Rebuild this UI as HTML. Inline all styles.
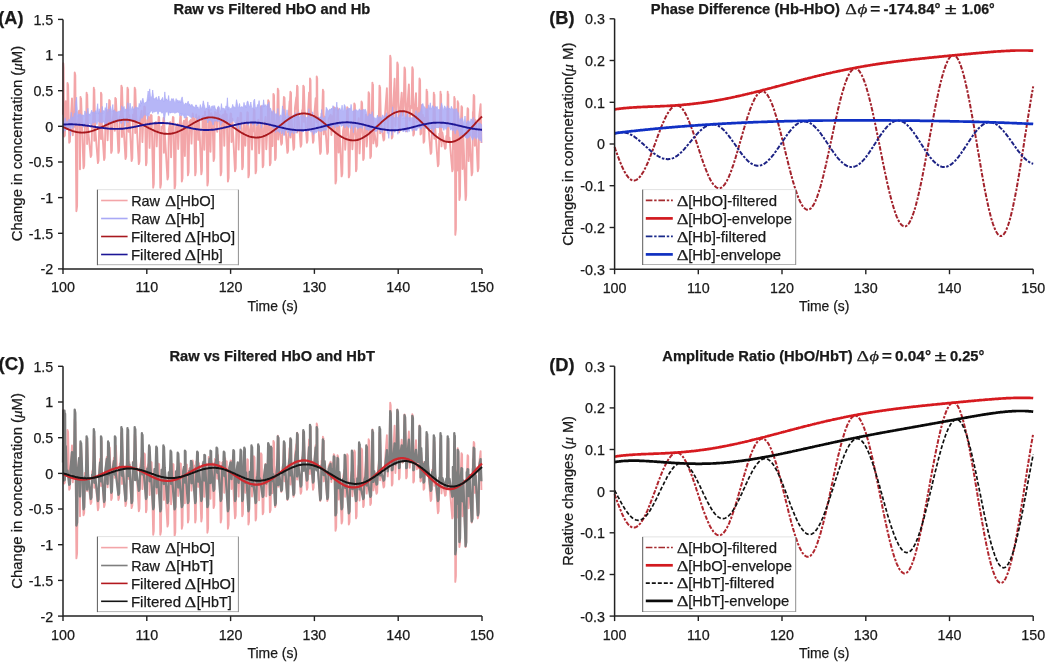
<!DOCTYPE html>
<html><head><meta charset="utf-8"><style>
html,body{margin:0;padding:0;background:#fff;}
svg{display:block;filter:blur(0.35px);}
text{font-family:"Liberation Sans", sans-serif;fill:#1a1a1a;stroke:#1a1a1a;stroke-width:0.25px;}
.tk{font-size:14.3px;}
</style></head><body>
<svg width="1050" height="666" viewBox="0 0 1050 666">
<rect width="1050" height="666" fill="#fff"/>
<path d="M63,114.7 63.3,63.2 63.6,67.9 64.1,136.5 64.8,135.7 65.4,122.3 65.8,101.2 66.6,129 66.8,125.8 67.5,119.8 67.5,82.9 68.1,85 69.2,142.7 69.9,141.6 70.5,125.3 72,98.4 72.8,135.2 73.6,123.5 74,127.1 74.7,72.4 75.3,75.1 76.4,211.2 77.1,206.2 77.7,125.4 79.1,110.7 79.8,127.7 80,169.2 80.5,96.9 80.8,123.6 81.1,98.4 83.5,168.2 84.2,165.8 84.9,126.1 85.9,125.4 86.3,113.3 86.6,92.8 87.1,144.1 87.2,94.5 88,128.4 90.7,157 91.4,155.1 92.1,124.6 93,122.4 93.5,108.3 93.8,87.7 94.3,140.8 94.3,89.5 95.1,126.7 97.9,163.1 98.5,160.8 99.2,125.7 100.1,111.8 100.2,122.4 101,139 101,92.8 101.5,94.2 101.8,123 104.1,160 104.7,157.7 105.4,125.1 106.8,110 107.6,140.2 108.4,120.4 108.5,122 109.2,100 109.8,100.8 111.2,152.9 111.9,150.8 112.5,121 114,110.6 114.5,116 114.8,130.7 115.3,98 115.6,115.9 115.9,98.8 118.4,152.9 119.1,150.7 119.7,117.1 120.7,115.4 121.1,98.4 121.4,85.6 122,137.1 122,87.1 122.8,114 125.5,159 126.2,156.4 126.8,117.3 126.9,113.6 127.5,87.7 127.7,104.3 128.1,89.1 128.6,131.8 129.4,115.2 131.6,161 132.3,158.3 133,114.8 134,120.8 134.4,105.3 134.7,87.7 135.2,133.1 135.3,89.2 136.1,113.2 138.8,164.1 139.5,161.3 140.2,119.4 141.6,110.7 142.4,142.1 143.2,121.7 143.5,121.3 144.3,106.4 144.9,107.2 146,165.2 146.6,162.6 147.3,120.4 148.7,116.5 149.6,147.9 150.2,123.4 150.4,118.6 151,114.9 151.6,115.4 153.2,187.7 153.8,184 154.5,123.8 155.9,122.1 156.7,146.4 157.6,123.1 157.9,130.7 158.6,116.7 159.2,117.2 160.3,187.7 161,184.1 161.6,126.6 162.8,128.1 163.1,123.6 163.6,117.8 163.9,152.8 164.1,118.3 164.7,131.6 167.5,179.5 168.2,176.5 168.8,129.4 170.2,122.3 171.1,157.3 171.9,129.8 172.2,127.9 172.9,117 173.5,117.5 174.6,188.7 175.3,185.1 176,127.1 177.4,123.9 178.2,149 179.1,126.6 179.6,125.1 180.3,116.3 180.9,116.8 181.8,181.6 182.5,178.2 183.2,123.8 184,120.6 184.9,156.1 185.5,120.1 185.7,122.6 186.3,117.4 186.9,117.6 187.9,175.4 188.6,172.1 189.3,121.8 190.7,120.1 191.5,143.6 192.4,118.7 192.7,113.4 193.5,118.6 194.1,118.5 195.2,175.4 195.8,171.9 196.3,114.5 196.5,120.6 197.1,119.2 197.4,117.9 197.7,119 198.2,139.9 199,116.2 201.3,174.4 201.9,170.8 202.6,116.5 203.5,116.3 204.3,149.7 205,111.4 205.2,117 205.7,117.4 206.3,117.1 207.4,185.6 208.1,181.3 208.7,109.8 209.6,114.6 210.5,151.7 211.2,115.3 211.3,113.3 211.9,116 212.5,115.9 213.6,161 214.3,158.1 214.9,112 216.3,113.6 217.2,131.8 218,108.2 218.3,118.4 219,115 219.6,115 220.7,175.4 221.4,171.7 222.1,115.8 223.5,114.4 224.3,145.7 225.2,111.2 225.5,117.7 226.2,114.1 226.8,114.3 227.9,181.6 228.6,177.8 229.3,120.2 229.8,123.9 230.6,113.5 230.6,116.7 231.2,114 231.5,142 232.3,118.6 235,171.3 235.7,168.4 236.4,125 237.8,117.6 238.6,149.6 239.5,122.8 239.8,128.3 240.6,112.6 241.2,113.4 242.2,169.2 242.9,166.8 243.6,128.6 244.5,121.3 245.3,145.8 246.1,129.2 246.6,128.5 247.4,112.1 247.9,113 248.4,177.4 249,174.7 249.7,131.5 251.1,122.7 252,149.5 252.8,128.2 253.1,131.4 253.9,109.3 254.5,110.5 255.6,173.4 256.2,170.9 256.9,128 258.3,119.7 259.1,153.2 260,133.5 260.3,134.6 261,106.3 261.6,107.5 262.7,167.2 263.4,165.1 264,128.7 265.5,117 266.3,149.3 267.1,133.3 267.5,129.4 268.2,100.1 268.8,101.5 269.9,165.2 270.6,163 271.2,126.8 271.7,112.1 272.5,146 272.7,125.2 273.3,128.6 273.4,93.9 274,95.4 275.1,160 275.8,157.9 276.4,124 277,117.6 277.4,109.5 277.8,88.8 278.2,139.6 278.4,90.3 279,124.4 281.3,144.7 282,143.2 282.6,120.5 283.1,118 283.5,106.2 283.9,96.9 284.4,134.2 284.5,97.8 285.2,124.1 287.4,152.9 288.1,150.6 288.8,113.2 289.6,101.2 289.7,110 290.4,91.8 290.5,137.5 291,92.8 291.3,113.7 293.5,149.8 294.2,147.5 294.9,108.3 296.3,97.1 296.3,108.9 297.1,85.6 297.1,132.5 297.6,86.8 298,109 300.7,146.7 301.4,144.4 302.1,110.2 302.6,111.1 303,100.6 303.3,85.6 303.8,121.8 303.9,86.8 304.6,109.7 306.9,142.7 307.5,140.6 308.2,109.9 309.1,92.4 309.2,111.4 309.9,127 310,78.5 310.5,80.1 310.8,108.1 313,142.7 313.6,140.7 314.3,114.8 315.7,98.1 315.9,112.7 316.6,122.4 316.7,76.4 317.2,78.4 317.4,110.2 320.2,153.9 320.9,151.6 321.5,113.8 322.1,116.5 322.9,89.8 322.9,103.4 323.5,91.3 323.7,134.4 324.6,116.6 327.3,153.9 328,151.9 328.6,119.2 330.6,114.7 331.4,135 332.2,116.3 333.1,129.4 333.8,107.1 334.4,108.1 335.5,183.6 336.2,180.2 336.8,130.7 336.9,126.8 337.5,108.2 337.7,119.1 338.1,109.3 338.6,152.5 339.4,126.5 341.6,176.4 342.3,173.8 343,131.4 344.4,122.7 345.2,149.7 346.1,135.1 346.4,135.2 347.2,107.3 347.8,108.7 348.8,177.4 349.5,174.9 350.2,136.5 351.6,124.5 352.4,149.3 353.2,135.9 353.5,133.9 354.3,103.4 354.9,105 356,171.3 356.6,169.1 357.3,133.5 358.7,118.3 359.6,153.4 360.4,134.5 360.7,132.4 361.5,101.5 362.1,103.1 363.2,160 363.8,158.4 364.5,133.6 365.9,114.6 366.7,146.5 367.6,133.7 367.9,126.7 368.6,92.2 369.2,94 370.3,158 371,156.2 371.6,127.5 371.6,120.1 372.4,82.6 372.6,104.4 373,84.5 373.4,143.4 374.2,130.4 376.5,146.7 377.2,145.2 377.8,123.6 378.8,116.6 379.2,105.1 379.5,85.6 380.1,133.2 380.1,87.1 380.9,122.4 383.6,140.6 384.3,139.1 385,114.8 386.9,88.3 387.7,129.3 388.6,117.7 389.4,111.1 390.2,55.7 390.7,58.4 391.8,138.5 392.5,136.8 393.2,106.5 394.6,78.8 395.4,126 396.2,111.8 396.5,106.4 397.3,62.5 397.9,64.7 399,132.4 399.6,130.8 400.3,109.8 401.7,92.7 402.6,115.7 403.4,109.7 403.7,105.7 404.5,67.4 405.1,69.4 406.2,131.4 406.8,129.9 407.5,105.5 408.9,84.4 409.7,120.6 410.6,106.1 411.5,108 412.3,67.2 412.9,69.4 413.3,135.5 414,133.9 414.6,109.2 416,93.2 416.9,122.2 417.7,108.1 418.7,115.9 418.7,121.3 419.5,78.5 419.5,78.5 420.1,80.4 420.1,80.5 420.5,134.5 421.2,133.4 421.2,105 421.8,115.5 422,122.3 422.9,114.9 423.6,142.7 424.3,141.2 424.9,117.6 425.9,125.7 426.3,109.2 426.6,89.8 427.2,127.3 427.2,91.6 428,121.6 430.7,153.9 431.4,152.3 432.1,122.8 433.1,131.1 433.5,111.4 433.8,92.8 434.3,138.7 434.4,94.8 435.2,127.5 437.9,166.2 438.6,164.2 439.3,133.6 439.8,141.3 440.5,91.8 440.6,115.9 441.1,94.1 441.5,146.4 442.3,132.4 445,148.8 445.7,148 446.4,135.9 447,140 447.7,91.8 447.8,116.6 448.3,94.1 448.6,141.9 449.5,137.8 452.3,171.3 452.9,169.2 452.9,122.6 453.5,132.4 453.6,140.1 453.8,148.9 454.3,96.9 454.6,135 454.8,98.8 455.3,234.8 455.9,228.8 456.5,123.7 456.6,136 456.9,137.9 457.3,170.5 457.7,101.3 458.2,136.5 458.3,102.9 459.4,200 460,196 460.7,133.5 460.7,128.1 461.5,106.2 461.6,119.2 462.1,107.3 462.5,169.1 463.3,134.7 465.6,200 466.2,195.7 466.8,122.9 466.9,127.5 467.6,108.2 467.8,118.4 468.2,108.9 468.6,161.1 469.5,131.9 471.7,175.4 472.4,172.2 472.9,112 473,122.9 473.7,94.9 473.9,110 474.3,95.9 474.8,145.8 475.6,120.3 477.8,171.3 478.5,168 479.2,116.6 480.6,104.1 481.4,142.9" fill="none" stroke="#f3a5a8" stroke-width="1.9" stroke-linejoin="round"/>
<path d="M63,123.9 63.8,122.9 64.5,120.1 65.3,117.7 66,122 66.8,121.9 67.5,121.2 68.3,121.7 69,119.1 69.8,121.1 70.5,119.9 71.3,112.3 72.1,119.7 72.8,116.8 73.6,117.9 74.3,113.1 75.1,114.9 75.8,101.6 76.6,97.2 77.3,110.7 78.1,117 78.8,114 79.6,114.6 80.3,113.7 81.1,115 81.9,115.2 82.6,115 83.4,115 84.1,116.2 84.9,110.9 85.6,112.6 86.4,115.9 87.1,112.4 87.9,108.3 88.6,115.3 89.4,113.8 90.2,115.3 90.9,112.5 91.7,110.2 92.4,113.1 93.2,111.9 93.9,112.3 94.7,113.2 95.4,110.6 96.2,114 96.9,109.8 97.7,103.7 98.4,114.2 99.2,108.7 100,112.7 100.7,113.1 101.5,113.8 102.2,106.4 103,113.8 103.7,110.4 104.5,112.4 105.2,107.6 106,110.9 106.7,103.1 107.5,113.1 108.3,113 109,108.9 109.8,112.2 110.5,106.4 111.3,110.4 112,111.7 112.8,104.5 113.5,112.7 114.3,110 115,110.7 115.8,112.4 116.5,112.1 117.3,112.1 118.1,111.5 118.8,111.4 119.6,111.3 120.3,110.6 121.1,111.4 121.8,105.8 122.6,109.2 123.3,107.4 124.1,106.5 124.8,111.3 125.6,109 126.4,108.9 127.1,111.1 127.9,102.7 128.6,110.7 129.4,108.6 130.1,103.1 130.9,109.7 131.6,109.3 132.4,106.5 133.1,110 133.9,108.5 134.6,109 135.4,106.6 136.2,107.3 136.9,108 137.7,107.4 138.4,109.1 139.2,103.4 139.9,106.6 140.7,100.5 141.4,104 142.2,100.1 142.9,98.2 143.7,102.1 144.5,103.4 145.2,102.8 146,101.9 146.7,102.3 147.5,96.9 148.2,91 149,100.6 149.7,88.9 150.5,97.1 151.2,97.8 152,95.9 152.7,90 153.5,97.4 154.3,99.3 155,98.5 155.8,97.6 156.5,97.1 157.3,100.3 158,100.1 158.8,96 159.5,99.6 160.3,100.4 161,100.3 161.8,99 162.6,97.4 163.3,101.1 164.1,101.1 164.8,91.9 165.6,100.2 166.3,98.8 167.1,100.1 167.8,100.9 168.6,95.5 169.3,101.5 170.1,101.5 170.9,101.3 171.6,98.6 172.4,100 173.1,98.4 173.9,100.1 174.6,102.5 175.4,102.7 176.1,98.6 176.9,102.2 177.6,100 178.4,100.6 179.1,102.8 179.9,100.4 180.7,103 181.4,99 182.2,96.9 182.9,101.4 183.7,104.7 184.4,104.8 185.2,103.3 185.9,103 186.7,104.4 187.4,102.7 188.2,101.2 189,105.5 189.7,103.8 190.5,106.3 191.2,104.9 192,104.3 192.7,105.7 193.5,107 194.2,106.8 195,108.7 195.7,104.9 196.5,105 197.2,108 198,106.8 198.8,110 199.5,108.9 200.3,104.6 201,108.2 201.8,108.2 202.5,105.4 203.3,100.8 204,104.2 204.8,107 205.5,109.7 206.3,107.9 207.1,109.3 207.8,101.9 208.6,108.4 209.3,105.3 210.1,107.2 210.8,110.6 211.6,106.3 212.3,106.6 213.1,105.5 213.8,108 214.6,105.6 215.3,108.8 216.1,109.3 216.9,110.8 217.6,107.5 218.4,106.1 219.1,106.7 219.9,110.6 220.6,111.2 221.4,103.6 222.1,108.5 222.9,108.3 223.6,108.3 224.4,108.6 225.2,110.4 225.9,105.9 226.7,106.9 227.4,97.8 228.2,110.2 228.9,106.8 229.7,109.4 230.4,108.5 231.2,107.9 231.9,108.4 232.7,104.4 233.4,107 234.2,106.7 235,108.5 235.7,106.6 236.5,99.7 237.2,103 238,108 238.7,107.2 239.5,103.5 240.2,107.7 241,107.2 241.7,106.6 242.5,107.1 243.3,107.6 244,102.4 244.8,107 245.5,105.4 246.3,108 247,101.7 247.8,101 248.5,103.6 249.3,106.5 250,106.8 250.8,102 251.6,107.4 252.3,107.9 253.1,108.1 253.8,100.6 254.6,99.1 255.3,107.5 256.1,107.4 256.8,107.9 257.6,104.5 258.3,105.6 259.1,100.6 259.8,107.4 260.6,107.2 261.4,106.3 262.1,104.9 262.9,107.2 263.6,99.8 264.4,106.6 265.1,104.6 265.9,106.1 266.6,106.4 267.4,104.2 268.1,106.4 268.9,102.2 269.7,110.4 270.4,107.9 271.2,110.3 271.9,112.2 272.7,112.4 273.4,110.1 274.2,111.7 274.9,114.5 275.7,113.9 276.4,113.7 277.2,116.5 277.9,108.4 278.7,117.8 279.5,116.8 280.2,114.9 281,115.5 281.7,115.9 282.5,105.9 283.2,114.6 284,109 284.7,114.6 285.5,116.7 286.2,117.5 287,109.8 287.8,115.9 288.5,115.7 289.3,117 290,117.7 290.8,116.2 291.5,116 292.3,117 293,117.8 293.8,114.7 294.5,117.3 295.3,112.7 296,117.8 296.8,114.9 297.6,117.8 298.3,112.2 299.1,118.1 299.8,117.2 300.6,115.3 301.3,117.1 302.1,114.2 302.8,118 303.6,116.9 304.3,114.9 305.1,118.2 305.9,116.9 306.6,117.5 307.4,117.3 308.1,116.8 308.9,108.7 309.6,117.9 310.4,116.9 311.1,116.9 311.9,117.3 312.6,111.8 313.4,116.7 314.1,116.2 314.9,116.5 315.7,117.1 316.4,116.5 317.2,118.3 317.9,117.1 318.7,117 319.4,118.1 320.2,116.6 320.9,118 321.7,109.5 322.4,116.5 323.2,118.3 324,118.2 324.7,117.4 325.5,115.8 326.2,107.3 327,108.6 327.7,109.9 328.5,111.4 329.2,109.7 330,108.9 330.7,109.7 331.5,108 332.2,109.9 333,105.6 333.8,109 334.5,109.8 335.3,107.3 336,110.3 336.8,102.1 337.5,110.9 338.3,111 339,109.2 339.8,107.9 340.5,110.3 341.3,110.3 342.1,105.2 342.8,111.3 343.6,111 344.3,104.5 345.1,105.8 345.8,109.8 346.6,110.7 347.3,108.8 348.1,107.8 348.8,110.4 349.6,108 350.4,109.5 351.1,104.4 351.9,110.4 352.6,111.3 353.4,111 354.1,110.7 354.9,109.5 355.6,109.9 356.4,109.8 357.1,110.6 357.9,111.2 358.6,110.6 359.4,108.8 360.2,110.8 360.9,110.1 361.7,110.4 362.4,110.6 363.2,109.2 363.9,110.4 364.7,109.5 365.4,109.3 366.2,111.5 366.9,115.5 367.7,116.5 368.5,116.9 369.2,113.5 370,115.7 370.7,114.1 371.5,115.2 372.2,111.6 373,116.9 373.7,116.9 374.5,118.3 375.2,118.2 376,118.4 376.7,118.4 377.5,115.1 378.3,118 379,117.4 379.8,116.5 380.5,117.5 381.3,118.3 382,117.2 382.8,114.8 383.5,117 384.3,116.9 385,115.8 385.8,115.2 386.6,112.7 387.3,118.2 388.1,117.1 388.8,116.7 389.6,116.8 390.3,115 391.1,114.8 391.8,114.7 392.6,106.8 393.3,118.4 394.1,117.3 394.8,118.4 395.6,116.8 396.4,109.8 397.1,116.9 397.9,118 398.6,118.1 399.4,114.9 400.1,116.2 400.9,112.7 401.6,111.9 402.4,118.1 403.1,118.1 403.9,110.1 404.7,118.5 405.4,117.2 406.2,116.5 406.9,115.2 407.7,112.8 408.4,118.3 409.2,117.4 409.9,117.7 410.7,117.6 411.4,117.5 412.2,118.5 412.9,118 413.7,115.7 414.5,118 415.2,114 416,110.6 416.7,117.3 417.5,117.6 418.2,112.5 419,115.8 419.7,112.3 420.5,112 421.2,108.2 422,104.3 422.8,103.5 423.5,105.7 424.3,106.7 425,107.5 425.8,109.2 426.5,109 427.3,108.8 428,108.8 428.8,104.8 429.5,109.4 430.3,102.8 431,109.3 431.8,108 432.6,105.7 433.3,106.2 434.1,109.1 434.8,107.8 435.6,106.3 436.3,108.1 437.1,106.4 437.8,109.8 438.6,109.5 439.3,109.7 440.1,109.8 440.9,106.5 441.6,102.9 442.4,106.4 443.1,109.4 443.9,109 444.6,105.8 445.4,107.3 446.1,109.8 446.9,107.8 447.6,105.7 448.4,109.6 449.2,107.9 449.9,108.8 450.7,109.3 451.4,106.3 452.2,108.6 452.9,108.9 453.7,109.6 454.4,108.9 455.2,109.9 455.9,108.7 456.7,108.8 457.4,112.3 458.2,112.4 459,117.6 459.7,121.4 460.5,118.7 461.2,120.9 462,117.4 462.7,119.1 463.5,122.5 464.2,123.7 465,116 465.7,123.4 466.5,123.9 467.3,120.8 468,123.6 468.8,120.5 469.5,122.3 470.3,122 471,118.8 471.8,120 472.5,122.5 473.3,117.3 474,120 474.8,123.8 475.5,124 476.3,123.1 477.1,122.4 477.8,124.4 478.6,123 479.3,123.3 480.1,123.1 480.8,124 481.6,124.6 L481.6,142.3 480.8,137.5 480.1,140.9 479.3,138.8 478.6,139.1 477.8,137.4 477.1,136.5 476.3,138.9 475.5,138.3 474.8,136.7 474,136.1 473.3,138.4 472.5,140.3 471.8,138 471,136.6 470.3,135.5 469.5,135.8 468.8,137.8 468,136.9 467.3,138.8 466.5,138 465.7,137.7 465,137 464.2,135.3 463.5,135 462.7,136.7 462,135.2 461.2,134.4 460.5,134.5 459.7,136.3 459,131.7 458.2,129.7 457.4,128.3 456.7,130.4 455.9,128 455.2,134.1 454.4,130 453.7,128.5 452.9,131.1 452.2,130.2 451.4,128 450.7,130.2 449.9,127.6 449.2,126.7 448.4,126.6 447.6,126.8 446.9,126.9 446.1,129.5 445.4,127.8 444.6,127.3 443.9,130.4 443.1,128.2 442.4,127.5 441.6,127.7 440.9,127.3 440.1,127.4 439.3,126.4 438.6,127.9 437.8,128 437.1,127.1 436.3,127.9 435.6,126.6 434.8,129 434.1,127.3 433.3,136.1 432.6,126.4 431.8,128.5 431,129.2 430.3,128.8 429.5,129.7 428.8,127.4 428,126.7 427.3,127 426.5,126.7 425.8,126.8 425,128.7 424.3,126.5 423.5,126.6 422.8,126.5 422,126.7 421.2,129.4 420.5,128.9 419.7,127.4 419,128.2 418.2,127.8 417.5,128.2 416.7,130.7 416,128.9 415.2,130.7 414.5,128.6 413.7,127.9 412.9,130.2 412.2,131.2 411.4,128 410.7,127.9 409.9,127.9 409.2,131.6 408.4,129 407.7,132.3 406.9,129.4 406.2,131.5 405.4,132 404.7,130.5 403.9,130.4 403.1,132 402.4,128 401.6,129.3 400.9,129.1 400.1,128.9 399.4,128.7 398.6,128.6 397.9,134.3 397.1,129.8 396.4,130.5 395.6,128.5 394.8,132.5 394.1,128.3 393.3,129.3 392.6,129.9 391.8,135.4 391.1,128.3 390.3,128.4 389.6,128.2 388.8,138.4 388.1,132.4 387.3,133.4 386.6,129.1 385.8,128.5 385,128.3 384.3,129.3 383.5,129.4 382.8,129.8 382,132.8 381.3,128.7 380.5,131.5 379.8,129.6 379,129.7 378.3,129.3 377.5,129.2 376.7,131.5 376,128.7 375.2,131.7 374.5,128.9 373.7,130.7 373,128.7 372.2,129.8 371.5,131.3 370.7,130.3 370,129.2 369.2,129.2 368.5,130.8 367.7,128.9 366.9,129.5 366.2,130 365.4,126.3 364.7,126.3 363.9,125.3 363.2,125.5 362.4,128.6 361.7,127.3 360.9,127.9 360.2,126.6 359.4,127.7 358.6,127.1 357.9,129.2 357.1,126.6 356.4,127.2 355.6,125.6 354.9,127.5 354.1,125.7 353.4,132.8 352.6,125.6 351.9,125 351.1,125.3 350.4,129 349.6,125 348.8,127.9 348.1,126.6 347.3,126.4 346.6,125.7 345.8,125.4 345.1,128 344.3,125.7 343.6,125.1 342.8,125.9 342.1,124.5 341.3,126.5 340.5,124.5 339.8,125.3 339,124.7 338.3,126.2 337.5,127 336.8,125.8 336,124.4 335.3,128.2 334.5,125.8 333.8,125.6 333,124.5 332.2,126.7 331.5,127.3 330.7,127.5 330,128.3 329.2,124.5 328.5,127.3 327.7,127 327,127.8 326.2,130.4 325.5,129.7 324.7,130.3 324,130 323.2,130 322.4,131.1 321.7,130.5 320.9,131.9 320.2,130.6 319.4,131.3 318.7,130.5 317.9,130.1 317.2,131.6 316.4,132.7 315.7,130.9 314.9,133.6 314.1,130.3 313.4,135.1 312.6,131.1 311.9,131.2 311.1,132.3 310.4,131.1 309.6,130.4 308.9,130.6 308.1,130 307.4,130.2 306.6,131.9 305.9,129.7 305.1,131.2 304.3,130.2 303.6,131.6 302.8,131.7 302.1,131.3 301.3,131.4 300.6,129.6 299.8,130.1 299.1,129.8 298.3,130.5 297.6,129.9 296.8,130.5 296,133.2 295.3,130 294.5,131.1 293.8,134 293,132.5 292.3,129.7 291.5,132.9 290.8,131.5 290,136.4 289.3,131.2 288.5,130.9 287.8,132.8 287,129.5 286.2,130.5 285.5,130.8 284.7,130 284,135.8 283.2,131.3 282.5,130.8 281.7,134 281,130.6 280.2,129.8 279.5,132.8 278.7,130.8 277.9,131.7 277.2,129.2 276.4,129.3 275.7,132.6 274.9,130.2 274.2,127.4 273.4,127.8 272.7,127 271.9,126.4 271.2,126.6 270.4,125.2 269.7,124 268.9,125.1 268.1,124.3 267.4,122.4 266.6,121.9 265.9,123.4 265.1,121.4 264.4,122 263.6,121.7 262.9,121.7 262.1,121.2 261.4,128.1 260.6,121.5 259.8,122 259.1,122.7 258.3,124.6 257.6,122.1 256.8,126 256.1,123.1 255.3,121.1 254.6,124 253.8,122.2 253.1,125.3 252.3,123.6 251.6,122.3 250.8,121.1 250,122.1 249.3,120.9 248.5,124.7 247.8,125.4 247,121.5 246.3,121.2 245.5,123.6 244.8,122.2 244,121.8 243.3,124 242.5,122.7 241.7,121.1 241,123.3 240.2,129.4 239.5,128.1 238.7,120.7 238,121.1 237.2,129.7 236.5,123.5 235.7,122.9 235,123.3 234.2,120.6 233.4,120.8 232.7,121.7 231.9,120.5 231.2,122.7 230.4,120.9 229.7,126.3 228.9,120.9 228.2,120.9 227.4,124.1 226.7,121.7 225.9,121.4 225.2,123 224.4,121.4 223.6,120.5 222.9,122.5 222.1,122.1 221.4,123.7 220.6,125.4 219.9,120.4 219.1,121.4 218.4,120.4 217.6,121.9 216.9,120.4 216.1,120.1 215.3,121.4 214.6,119.4 213.8,122.4 213.1,125.2 212.3,122.5 211.6,121.4 210.8,119 210.1,120.8 209.3,120.2 208.6,120.3 207.8,123 207.1,118.9 206.3,119.6 205.5,119.5 204.8,120 204,118.8 203.3,118.7 202.5,118.3 201.8,120.2 201,120 200.3,118.7 199.5,118.5 198.8,121.5 198,120.3 197.2,119.9 196.5,117.5 195.7,117.7 195,118 194.2,116.7 193.5,117 192.7,117 192,116 191.2,118.3 190.5,116.3 189.7,116.7 189,115.2 188.2,115.5 187.4,115.2 186.7,114.8 185.9,118 185.2,113.8 184.4,118.3 183.7,115.3 182.9,115.7 182.2,113.2 181.4,115.9 180.7,113 179.9,115.9 179.1,112.2 178.4,112.4 177.6,112.1 176.9,112.6 176.1,112.4 175.4,113 174.6,113.3 173.9,112.1 173.1,112.7 172.4,112.6 171.6,112.5 170.9,112.9 170.1,113 169.3,111.7 168.6,115.5 167.8,111.9 167.1,111.6 166.3,112.2 165.6,111.6 164.8,117.4 164.1,120.6 163.3,112.1 162.6,112.7 161.8,113.3 161,112.1 160.3,111.2 159.5,111.4 158.8,111.7 158,114.4 157.3,111.4 156.5,111.3 155.8,111.5 155,111.7 154.3,112 153.5,111.5 152.7,113.3 152,111.2 151.2,110.8 150.5,111.7 149.7,113.2 149,116 148.2,113 147.5,119.4 146.7,115 146,115.6 145.2,114.2 144.5,114.8 143.7,115.8 142.9,116.4 142.2,118.4 141.4,117.3 140.7,117.9 139.9,121.6 139.2,120.3 138.4,121.6 137.7,120.4 136.9,121 136.2,119.4 135.4,121.1 134.6,119.9 133.9,120.1 133.1,119.7 132.4,120.7 131.6,120.1 130.9,119.9 130.1,120.3 129.4,120.4 128.6,121.3 127.9,122.7 127.1,121 126.4,120.4 125.6,120.4 124.8,126.2 124.1,120 123.3,120.2 122.6,120.2 121.8,123.1 121.1,123.8 120.3,122.5 119.6,121.9 118.8,120.2 118.1,120.8 117.3,122.6 116.5,121.1 115.8,121 115,122 114.3,121.3 113.5,121.9 112.8,120.6 112,122.6 111.3,121.3 110.5,123.6 109.8,121.2 109,121.6 108.3,120.7 107.5,122.2 106.7,124.8 106,123.6 105.2,124.9 104.5,123.8 103.7,121.1 103,122.3 102.2,123.2 101.5,122.6 100.7,122.4 100,122.1 99.2,122.5 98.4,121.2 97.7,121.3 96.9,124.7 96.2,122 95.4,122.3 94.7,121.8 93.9,123.4 93.2,122 92.4,122.7 91.7,124.6 90.9,124.8 90.2,124.1 89.4,123 88.6,124.6 87.9,125 87.1,125.9 86.4,122.6 85.6,122.9 84.9,125.2 84.1,123.2 83.4,127.3 82.6,126 81.9,125 81.1,122.9 80.3,123.4 79.6,123.8 78.8,124 78.1,123.4 77.3,124.1 76.6,123.5 75.8,125.3 75.1,123.8 74.3,124.4 73.6,126.4 72.8,128.3 72.1,126.1 71.3,125.7 70.5,135.7 69.8,127.1 69,126.8 68.3,127.1 67.5,129.3 66.8,127.4 66,128.6 65.3,130.7 64.5,130.2 63.8,131.4 63,133.4Z" fill="#a9a9f6" fill-opacity="0.85" stroke="#a9a9f6" stroke-opacity="0.85" stroke-width="0.8"/>
<path d="M63,126.8 63.8,127.3 64.7,127.7 65.5,128.1 66.4,128.4 67.2,128.8 68,129.2 68.9,129.6 69.7,129.9 70.5,130.2 71.4,130.5 72.2,130.8 73.1,131.1 73.9,131.3 74.7,131.6 75.6,131.8 76.4,132 77.2,132.1 78.1,132.3 78.9,132.4 79.8,132.5 80.6,132.5 81.4,132.6 82.3,132.6 83.1,132.6 84,132.5 84.8,132.5 85.6,132.4 86.5,132.3 87.3,132.1 88.1,132 89,131.8 89.8,131.6 90.7,131.4 91.5,131.1 92.3,130.9 93.2,130.6 94,130.3 94.8,130 95.7,129.7 96.5,129.4 97.4,129 98.2,128.7 99,128.3 99.9,127.9 100.7,127.6 101.5,127.2 102.4,126.8 103.2,126.4 104.1,126 104.9,125.6 105.7,125.2 106.6,124.8 107.4,124.4 108.3,124.1 109.1,123.7 109.9,123.3 110.8,123 111.6,122.7 112.4,122.3 113.3,122 114.1,121.7 115,121.5 115.8,121.2 116.6,121 117.5,120.7 118.3,120.5 119.1,120.4 120,120.2 120.8,120.1 121.7,120 122.5,119.9 123.3,119.8 124.2,119.8 125,119.7 125.8,119.7 126.7,119.8 127.5,119.8 128.4,119.9 129.2,120 130,120.2 130.9,120.3 131.7,120.5 132.6,120.7 133.4,121 134.2,121.2 135.1,121.5 135.9,121.8 136.7,122.1 137.6,122.5 138.4,122.8 139.3,123.2 140.1,123.6 140.9,124 141.8,124.4 142.6,124.8 143.4,125.2 144.3,125.7 145.1,126.1 146,126.5 146.8,127 147.6,127.4 148.5,127.9 149.3,128.3 150.2,128.7 151,129.1 151.8,129.5 152.7,129.9 153.5,130.3 154.3,130.7 155.2,131.1 156,131.4 156.9,131.7 157.7,132 158.5,132.3 159.4,132.6 160.2,132.8 161,133.1 161.9,133.2 162.7,133.4 163.6,133.6 164.4,133.7 165.2,133.8 166.1,133.8 166.9,133.9 167.8,133.9 168.6,133.9 169.4,133.8 170.3,133.7 171.1,133.6 171.9,133.5 172.8,133.3 173.6,133.1 174.5,132.9 175.3,132.6 176.1,132.4 177,132.1 177.8,131.7 178.6,131.4 179.5,131 180.3,130.6 181.2,130.2 182,129.8 182.8,129.4 183.7,128.9 184.5,128.4 185.3,127.9 186.2,127.5 187,127 187.9,126.5 188.7,126 189.5,125.5 190.4,125 191.2,124.5 192.1,124 192.9,123.5 193.7,123 194.6,122.5 195.4,122.1 196.2,121.6 197.1,121.2 197.9,120.8 198.8,120.4 199.6,120 200.4,119.6 201.3,119.3 202.1,119 202.9,118.7 203.8,118.4 204.6,118.2 205.5,118 206.3,117.8 207.1,117.7 208,117.5 208.8,117.4 209.6,117.4 210.5,117.4 211.3,117.4 212.2,117.4 213,117.5 213.8,117.6 214.7,117.7 215.5,117.9 216.4,118.1 217.2,118.3 218,118.5 218.9,118.8 219.7,119.2 220.5,119.5 221.4,119.9 222.2,120.3 223.1,120.7 223.9,121.1 224.7,121.6 225.6,122.1 226.4,122.6 227.2,123.1 228.1,123.7 228.9,124.2 229.8,124.8 230.6,125.3 231.4,125.9 232.3,126.5 233.1,127.1 234,127.7 234.8,128.2 235.6,128.8 236.5,129.4 237.3,130 238.1,130.5 239,131.1 239.8,131.6 240.7,132.2 241.5,132.7 242.3,133.2 243.2,133.6 244,134.1 244.8,134.5 245.7,134.9 246.5,135.3 247.4,135.7 248.2,136 249,136.3 249.9,136.6 250.7,136.8 251.6,137 252.4,137.2 253.2,137.3 254.1,137.4 254.9,137.5 255.7,137.6 256.6,137.6 257.4,137.5 258.3,137.5 259.1,137.4 259.9,137.2 260.8,137.1 261.6,136.9 262.4,136.6 263.3,136.3 264.1,136 265,135.7 265.8,135.3 266.6,134.9 267.5,134.5 268.3,134 269.1,133.5 270,133 270.8,132.5 271.7,131.9 272.5,131.3 273.3,130.7 274.2,130.1 275,129.5 275.9,128.9 276.7,128.2 277.5,127.6 278.4,126.9 279.2,126.2 280,125.6 280.9,124.9 281.7,124.2 282.6,123.6 283.4,122.9 284.2,122.3 285.1,121.6 285.9,121 286.7,120.4 287.6,119.8 288.4,119.2 289.3,118.6 290.1,118.1 290.9,117.6 291.8,117.1 292.6,116.6 293.5,116.2 294.3,115.8 295.1,115.4 296,115 296.8,114.7 297.6,114.4 298.5,114.2 299.3,114 300.2,113.8 301,113.6 301.8,113.5 302.7,113.5 303.5,113.4 304.3,113.4 305.2,113.5 306,113.6 306.9,113.7 307.7,113.8 308.5,114 309.4,114.2 310.2,114.5 311,114.8 311.9,115.1 312.7,115.5 313.6,115.9 314.4,116.3 315.2,116.8 316.1,117.3 316.9,117.8 317.8,118.3 318.6,118.9 319.4,119.5 320.3,120.1 321.1,120.7 321.9,121.4 322.8,122 323.6,122.7 324.5,123.4 325.3,124.1 326.1,124.8 327,125.5 327.8,126.2 328.6,127 329.5,127.7 330.3,128.4 331.2,129.1 332,129.8 332.8,130.5 333.7,131.2 334.5,131.9 335.4,132.5 336.2,133.2 337,133.8 337.9,134.4 338.7,135 339.5,135.5 340.4,136.1 341.2,136.6 342.1,137.1 342.9,137.5 343.7,138 344.6,138.4 345.4,138.7 346.2,139.1 347.1,139.3 347.9,139.6 348.8,139.8 349.6,140 350.4,140.2 351.3,140.3 352.1,140.4 352.9,140.4 353.8,140.4 354.6,140.4 355.5,140.3 356.3,140.1 357.1,140 358,139.8 358.8,139.5 359.7,139.2 360.5,138.9 361.3,138.5 362.2,138.1 363,137.7 363.8,137.2 364.7,136.7 365.5,136.1 366.4,135.6 367.2,135 368,134.4 368.9,133.7 369.7,133 370.5,132.3 371.4,131.6 372.2,130.9 373.1,130.1 373.9,129.4 374.7,128.6 375.6,127.8 376.4,127 377.2,126.2 378.1,125.5 378.9,124.7 379.8,123.9 380.6,123.1 381.4,122.3 382.3,121.6 383.1,120.8 384,120.1 384.8,119.4 385.6,118.7 386.5,118 387.3,117.3 388.1,116.7 389,116.1 389.8,115.5 390.7,115 391.5,114.5 392.3,114 393.2,113.5 394,113.1 394.8,112.7 395.7,112.4 396.5,112.1 397.4,111.8 398.2,111.6 399,111.4 399.9,111.3 400.7,111.2 401.6,111.2 402.4,111.1 403.2,111.2 404.1,111.3 404.9,111.4 405.7,111.6 406.6,111.8 407.4,112.1 408.3,112.4 409.1,112.8 409.9,113.2 410.8,113.6 411.6,114.1 412.4,114.6 413.3,115.2 414.1,115.7 415,116.4 415.8,117 416.6,117.7 417.5,118.4 418.3,119.2 419.1,119.9 420,120.7 420.8,121.5 421.7,122.3 422.5,123.2 423.3,124 424.2,124.8 425,125.7 425.9,126.6 426.7,127.4 427.5,128.3 428.4,129.1 429.2,130 430,130.8 430.9,131.6 431.7,132.4 432.6,133.2 433.4,133.9 434.2,134.7 435.1,135.4 435.9,136.1 436.7,136.8 437.6,137.4 438.4,138 439.3,138.5 440.1,139.1 440.9,139.6 441.8,140 442.6,140.4 443.5,140.8 444.3,141.1 445.1,141.4 446,141.6 446.8,141.8 447.6,141.9 448.5,142 449.3,142 450.2,142 451,142 451.8,141.9 452.7,141.7 453.5,141.5 454.3,141.3 455.2,141 456,140.6 456.9,140.2 457.7,139.8 458.5,139.3 459.4,138.8 460.2,138.2 461,137.6 461.9,137 462.7,136.3 463.6,135.6 464.4,134.8 465.2,134 466.1,133.3 466.9,132.4 467.8,131.6 468.6,130.7 469.4,129.8 470.3,128.9 471.1,128 471.9,127.1 472.8,126.2 473.6,125.3 474.5,124.4 475.3,123.4 476.1,122.5 477,121.6 477.8,120.7 478.6,119.8 479.5,119 480.3,118.1 481.2,117.3 482,116.5" fill="none" stroke="#a8181e" stroke-width="1.9" stroke-linejoin="round"/>
<path d="M63,124.6 63.8,124.5 64.7,124.5 65.5,124.5 66.4,124.4 67.2,124.4 68,124.4 68.9,124.3 69.7,124.3 70.5,124.3 71.4,124.3 72.2,124.3 73.1,124.4 73.9,124.4 74.7,124.4 75.6,124.5 76.4,124.5 77.2,124.6 78.1,124.6 78.9,124.7 79.8,124.8 80.6,124.9 81.4,124.9 82.3,125 83.1,125.1 84,125.2 84.8,125.3 85.6,125.5 86.5,125.6 87.3,125.7 88.1,125.8 89,125.9 89.8,126.1 90.7,126.2 91.5,126.3 92.3,126.4 93.2,126.6 94,126.7 94.8,126.8 95.7,127 96.5,127.1 97.4,127.2 98.2,127.4 99,127.5 99.9,127.6 100.7,127.7 101.5,127.8 102.4,127.9 103.2,128 104.1,128.1 104.9,128.2 105.7,128.3 106.6,128.4 107.4,128.5 108.3,128.6 109.1,128.6 109.9,128.7 110.8,128.8 111.6,128.8 112.4,128.8 113.3,128.9 114.1,128.9 115,128.9 115.8,128.9 116.6,128.9 117.5,128.9 118.3,128.9 119.1,128.9 120,128.8 120.8,128.8 121.7,128.7 122.5,128.7 123.3,128.6 124.2,128.5 125,128.4 125.8,128.3 126.7,128.2 127.5,128.1 128.4,127.9 129.2,127.8 130,127.7 130.9,127.5 131.7,127.4 132.6,127.2 133.4,127.1 134.2,126.9 135.1,126.7 135.9,126.6 136.7,126.4 137.6,126.2 138.4,126 139.3,125.9 140.1,125.7 140.9,125.5 141.8,125.4 142.6,125.2 143.4,125 144.3,124.9 145.1,124.7 146,124.5 146.8,124.4 147.6,124.2 148.5,124.1 149.3,124 150.2,123.8 151,123.7 151.8,123.6 152.7,123.5 153.5,123.4 154.3,123.3 155.2,123.2 156,123.2 156.9,123.1 157.7,123.1 158.5,123 159.4,123 160.2,123 161,123 161.9,123 162.7,123 163.6,123 164.4,123.1 165.2,123.1 166.1,123.2 166.9,123.2 167.8,123.3 168.6,123.4 169.4,123.5 170.3,123.6 171.1,123.8 171.9,123.9 172.8,124 173.6,124.2 174.5,124.4 175.3,124.5 176.1,124.7 177,124.9 177.8,125.1 178.6,125.2 179.5,125.4 180.3,125.6 181.2,125.8 182,126 182.8,126.2 183.7,126.5 184.5,126.7 185.3,126.9 186.2,127.1 187,127.3 187.9,127.5 188.7,127.7 189.5,127.9 190.4,128 191.2,128.2 192.1,128.4 192.9,128.6 193.7,128.7 194.6,128.9 195.4,129 196.2,129.2 197.1,129.3 197.9,129.4 198.8,129.5 199.6,129.6 200.4,129.7 201.3,129.8 202.1,129.9 202.9,129.9 203.8,130 204.6,130 205.5,130 206.3,130 207.1,130 208,130 208.8,130 209.6,129.9 210.5,129.9 211.3,129.8 212.2,129.8 213,129.7 213.8,129.6 214.7,129.5 215.5,129.3 216.4,129.2 217.2,129.1 218,128.9 218.9,128.8 219.7,128.6 220.5,128.4 221.4,128.3 222.2,128.1 223.1,127.9 223.9,127.7 224.7,127.5 225.6,127.3 226.4,127.1 227.2,126.9 228.1,126.7 228.9,126.5 229.8,126.2 230.6,126 231.4,125.8 232.3,125.6 233.1,125.4 234,125.2 234.8,125 235.6,124.8 236.5,124.6 237.3,124.4 238.1,124.2 239,124 239.8,123.9 240.7,123.7 241.5,123.5 242.3,123.4 243.2,123.3 244,123.1 244.8,123 245.7,122.9 246.5,122.8 247.4,122.7 248.2,122.7 249,122.6 249.9,122.6 250.7,122.5 251.6,122.5 252.4,122.5 253.2,122.5 254.1,122.5 254.9,122.5 255.7,122.5 256.6,122.6 257.4,122.7 258.3,122.7 259.1,122.8 259.9,122.9 260.8,123 261.6,123.1 262.4,123.2 263.3,123.4 264.1,123.5 265,123.7 265.8,123.8 266.6,124 267.5,124.1 268.3,124.3 269.1,124.5 270,124.7 270.8,124.9 271.7,125.1 272.5,125.3 273.3,125.5 274.2,125.7 275,125.9 275.9,126.2 276.7,126.4 277.5,126.6 278.4,126.8 279.2,127 280,127.2 280.9,127.4 281.7,127.6 282.6,127.8 283.4,128 284.2,128.2 285.1,128.4 285.9,128.6 286.7,128.8 287.6,128.9 288.4,129.1 289.3,129.2 290.1,129.4 290.9,129.5 291.8,129.6 292.6,129.7 293.5,129.8 294.3,129.9 295.1,130 296,130.1 296.8,130.1 297.6,130.2 298.5,130.2 299.3,130.2 300.2,130.2 301,130.2 301.8,130.2 302.7,130.2 303.5,130.2 304.3,130.1 305.2,130 306,130 306.9,129.9 307.7,129.8 308.5,129.7 309.4,129.5 310.2,129.4 311,129.3 311.9,129.1 312.7,128.9 313.6,128.8 314.4,128.6 315.2,128.4 316.1,128.2 316.9,128 317.8,127.8 318.6,127.6 319.4,127.4 320.3,127.2 321.1,127 321.9,126.7 322.8,126.5 323.6,126.3 324.5,126.1 325.3,125.8 326.1,125.6 327,125.4 327.8,125.2 328.6,125 329.5,124.8 330.3,124.5 331.2,124.3 332,124.2 332.8,124 333.7,123.8 334.5,123.6 335.4,123.5 336.2,123.3 337,123.2 337.9,123 338.7,122.9 339.5,122.8 340.4,122.7 341.2,122.6 342.1,122.5 342.9,122.5 343.7,122.4 344.6,122.4 345.4,122.4 346.2,122.3 347.1,122.3 347.9,122.3 348.8,122.4 349.6,122.4 350.4,122.5 351.3,122.5 352.1,122.6 352.9,122.7 353.8,122.8 354.6,122.9 355.5,123 356.3,123.1 357.1,123.3 358,123.4 358.8,123.6 359.7,123.8 360.5,123.9 361.3,124.1 362.2,124.3 363,124.5 363.8,124.7 364.7,124.9 365.5,125.2 366.4,125.4 367.2,125.6 368,125.8 368.9,126 369.7,126.3 370.5,126.5 371.4,126.7 372.2,126.9 373.1,127.2 373.9,127.4 374.7,127.6 375.6,127.8 376.4,128 377.2,128.2 378.1,128.4 378.9,128.6 379.8,128.8 380.6,129 381.4,129.1 382.3,129.3 383.1,129.4 384,129.5 384.8,129.7 385.6,129.8 386.5,129.9 387.3,130 388.1,130 389,130.1 389.8,130.2 390.7,130.2 391.5,130.2 392.3,130.2 393.2,130.2 394,130.2 394.8,130.2 395.7,130.2 396.5,130.1 397.4,130.1 398.2,130 399,129.9 399.9,129.8 400.7,129.7 401.6,129.6 402.4,129.4 403.2,129.3 404.1,129.2 404.9,129 405.7,128.8 406.6,128.7 407.4,128.5 408.3,128.3 409.1,128.1 409.9,127.9 410.8,127.7 411.6,127.5 412.4,127.3 413.3,127 414.1,126.8 415,126.6 415.8,126.4 416.6,126.2 417.5,125.9 418.3,125.7 419.1,125.5 420,125.3 420.8,125.1 421.7,124.9 422.5,124.7 423.3,124.5 424.2,124.3 425,124.1 425.9,124 426.7,123.8 427.5,123.6 428.4,123.5 429.2,123.4 430,123.2 430.9,123.1 431.7,123 432.6,122.9 433.4,122.8 434.2,122.8 435.1,122.7 435.9,122.7 436.7,122.6 437.6,122.6 438.4,122.6 439.3,122.6 440.1,122.6 440.9,122.7 441.8,122.7 442.6,122.8 443.5,122.8 444.3,122.9 445.1,123 446,123.1 446.8,123.2 447.6,123.3 448.5,123.4 449.3,123.6 450.2,123.7 451,123.9 451.8,124 452.7,124.2 453.5,124.4 454.3,124.5 455.2,124.7 456,124.9 456.9,125.1 457.7,125.3 458.5,125.5 459.4,125.7 460.2,125.9 461,126.1 461.9,126.3 462.7,126.5 463.6,126.7 464.4,126.9 465.2,127.1 466.1,127.3 466.9,127.5 467.8,127.7 468.6,127.9 469.4,128 470.3,128.2 471.1,128.4 471.9,128.5 472.8,128.7 473.6,128.8 474.5,128.9 475.3,129.1 476.1,129.2 477,129.3 477.8,129.4 478.6,129.5 479.5,129.5 480.3,129.6 481.2,129.7 482,129.7" fill="none" stroke="#1c1696" stroke-width="1.9" stroke-linejoin="round"/>
<path d="M63.0,19.4 L63.0,268.9 L482.0,268.9" fill="none" stroke="#222222" stroke-width="1.5"/>
<line x1="58.0" y1="19.4" x2="63.0" y2="19.4" stroke="#222222" stroke-width="1.4"/>
<text x="53.3" y="24.8" text-anchor="end" class="tk">1.5</text>
<line x1="58.0" y1="55.0" x2="63.0" y2="55.0" stroke="#222222" stroke-width="1.4"/>
<text x="53.3" y="60.4" text-anchor="end" class="tk">1</text>
<line x1="58.0" y1="90.7" x2="63.0" y2="90.7" stroke="#222222" stroke-width="1.4"/>
<text x="53.3" y="96.1" text-anchor="end" class="tk">0.5</text>
<line x1="58.0" y1="126.3" x2="63.0" y2="126.3" stroke="#222222" stroke-width="1.4"/>
<text x="53.3" y="131.7" text-anchor="end" class="tk">0</text>
<line x1="58.0" y1="162.0" x2="63.0" y2="162.0" stroke="#222222" stroke-width="1.4"/>
<text x="53.3" y="167.4" text-anchor="end" class="tk">-0.5</text>
<line x1="58.0" y1="197.6" x2="63.0" y2="197.6" stroke="#222222" stroke-width="1.4"/>
<text x="53.3" y="203.0" text-anchor="end" class="tk">-1</text>
<line x1="58.0" y1="233.3" x2="63.0" y2="233.3" stroke="#222222" stroke-width="1.4"/>
<text x="53.3" y="238.7" text-anchor="end" class="tk">-1.5</text>
<line x1="58.0" y1="268.9" x2="63.0" y2="268.9" stroke="#222222" stroke-width="1.4"/>
<text x="53.3" y="274.3" text-anchor="end" class="tk">-2</text>
<line x1="63.0" y1="268.9" x2="63.0" y2="273.9" stroke="#222222" stroke-width="1.4"/>
<text x="63.0" y="292.3" text-anchor="middle" class="tk">100</text>
<line x1="146.8" y1="268.9" x2="146.8" y2="273.9" stroke="#222222" stroke-width="1.4"/>
<text x="146.8" y="292.3" text-anchor="middle" class="tk">110</text>
<line x1="230.6" y1="268.9" x2="230.6" y2="273.9" stroke="#222222" stroke-width="1.4"/>
<text x="230.6" y="292.3" text-anchor="middle" class="tk">120</text>
<line x1="314.4" y1="268.9" x2="314.4" y2="273.9" stroke="#222222" stroke-width="1.4"/>
<text x="314.4" y="292.3" text-anchor="middle" class="tk">130</text>
<line x1="398.2" y1="268.9" x2="398.2" y2="273.9" stroke="#222222" stroke-width="1.4"/>
<text x="398.2" y="292.3" text-anchor="middle" class="tk">140</text>
<line x1="482.0" y1="268.9" x2="482.0" y2="273.9" stroke="#222222" stroke-width="1.4"/>
<text x="482.0" y="292.3" text-anchor="middle" class="tk">150</text>
<text x="247.52" y="310.80" textLength="50.50" lengthAdjust="spacingAndGlyphs" style="font-family:'Liberation Sans', sans-serif;font-size:14.2px;">Time (s)</text>
<text transform="rotate(-90)" x="-241.24" y="22.30" textLength="195.43" lengthAdjust="spacingAndGlyphs" style="font-family:'Liberation Sans',sans-serif;font-size:14.3px;">Change in concentration (<tspan style="font-family:'Liberation Serif',serif;font-style:italic">μ</tspan>M)</text>
<text x="173.57" y="13.90" textLength="196.72" lengthAdjust="spacingAndGlyphs" style="font-family:'Liberation Sans', sans-serif;font-size:14.2px;font-weight:bold;">Raw vs Filtered HbO and Hb</text>
<text x="-1.71" y="23.60" textLength="25.18" lengthAdjust="spacingAndGlyphs" style="font-family:'Liberation Sans', sans-serif;font-size:18px;font-weight:bold;">(A)</text>
<rect x="97.4" y="189.7" width="141.0" height="75.0" fill="#fff"/>
<line x1="97.4" y1="189.7" x2="238.4" y2="189.7" stroke="#e2e2e2" stroke-width="1"/>
<line x1="97.4" y1="264.7" x2="238.4" y2="264.7" stroke="#b4b4b4" stroke-width="1"/>
<line x1="97.4" y1="189.7" x2="97.4" y2="265.2" stroke="#5a5a5a" stroke-width="1"/>
<line x1="238.4" y1="189.7" x2="238.4" y2="265.2" stroke="#8e8e8e" stroke-width="1"/>
<line x1="101.1" y1="200.5" x2="127.6" y2="200.5" stroke="#f3a5a8" stroke-width="1.6"/>
<text x="131.15" y="205.80" textLength="28.86" lengthAdjust="spacingAndGlyphs" style="font-family:'Liberation Sans', sans-serif;font-size:14.3px;">Raw</text>
<text x="165.10" y="205.80" textLength="11.28" lengthAdjust="spacingAndGlyphs" style="font-family:'Liberation Serif', serif;font-size:14.3px;">Δ</text>
<text x="176.27" y="205.80" textLength="38.59" lengthAdjust="spacingAndGlyphs" style="font-family:'Liberation Sans', sans-serif;font-size:14.3px;">[HbO]</text>
<line x1="101.1" y1="218.5" x2="127.6" y2="218.5" stroke="#a9a9f6" stroke-width="1.6"/>
<text x="131.15" y="223.80" textLength="28.86" lengthAdjust="spacingAndGlyphs" style="font-family:'Liberation Sans', sans-serif;font-size:14.3px;">Raw</text>
<text x="165.10" y="223.80" textLength="11.28" lengthAdjust="spacingAndGlyphs" style="font-family:'Liberation Serif', serif;font-size:14.3px;">Δ</text>
<text x="176.22" y="223.80" textLength="28.26" lengthAdjust="spacingAndGlyphs" style="font-family:'Liberation Sans', sans-serif;font-size:14.3px;">[Hb]</text>
<line x1="101.1" y1="236.5" x2="127.6" y2="236.5" stroke="#a8181e" stroke-width="1.6"/>
<text x="130.90" y="241.80" textLength="50.17" lengthAdjust="spacingAndGlyphs" style="font-family:'Liberation Sans', sans-serif;font-size:14.3px;">Filtered</text>
<text x="184.47" y="241.80" textLength="11.73" lengthAdjust="spacingAndGlyphs" style="font-family:'Liberation Serif', serif;font-size:14.3px;">Δ</text>
<text x="196.77" y="241.80" textLength="38.28" lengthAdjust="spacingAndGlyphs" style="font-family:'Liberation Sans', sans-serif;font-size:14.3px;">[HbO]</text>
<line x1="101.1" y1="254.5" x2="127.6" y2="254.5" stroke="#1c1696" stroke-width="1.6"/>
<text x="130.90" y="259.80" textLength="50.17" lengthAdjust="spacingAndGlyphs" style="font-family:'Liberation Sans', sans-serif;font-size:14.3px;">Filtered</text>
<text x="184.47" y="259.80" textLength="11.73" lengthAdjust="spacingAndGlyphs" style="font-family:'Liberation Serif', serif;font-size:14.3px;">Δ</text>
<text x="196.81" y="259.80" textLength="26.00" lengthAdjust="spacingAndGlyphs" style="font-family:'Liberation Sans', sans-serif;font-size:14.3px;">[Hb]</text>
<path d="M614.6,147 615.4,149.4 616.3,151.8 617.1,154.1 617.9,156.4 618.8,158.6 619.6,160.8 620.5,162.9 621.3,164.9 622.1,166.8 623,168.6 623.8,170.3 624.6,171.9 625.5,173.3 626.3,174.7 627.2,175.9 628,177 628.8,177.9 629.7,178.7 630.5,179.4 631.3,179.9 632.2,180.2 633,180.5 633.9,180.5 634.7,180.4 635.5,180.2 636.4,179.8 637.2,179.3 638,178.7 638.9,177.9 639.7,177 640.6,176 641.4,174.9 642.2,173.6 643.1,172.2 643.9,170.7 644.7,169.1 645.6,167.4 646.4,165.6 647.3,163.8 648.1,161.8 648.9,159.8 649.8,157.7 650.6,155.6 651.4,153.4 652.3,151.2 653.1,148.9 653.9,146.6 654.8,144.3 655.6,142 656.5,139.7 657.3,137.5 658.1,135.2 659,133 659.8,130.8 660.6,128.6 661.5,126.5 662.3,124.5 663.2,122.5 664,120.7 664.8,118.9 665.7,117.1 666.5,115.5 667.3,114 668.2,112.6 669,111.3 669.9,110.1 670.7,109.1 671.5,108.1 672.4,107.4 673.2,106.7 674,106.2 674.9,105.8 675.7,105.5 676.6,105.4 677.4,105.4 678.2,105.6 679.1,106 679.9,106.5 680.7,107.1 681.6,108 682.4,108.9 683.3,110 684.1,111.3 684.9,112.7 685.8,114.2 686.6,115.9 687.4,117.6 688.3,119.5 689.1,121.5 689.9,123.6 690.8,125.7 691.6,128 692.5,130.3 693.3,132.7 694.1,135.1 695,137.6 695.8,140.2 696.6,142.7 697.5,145.3 698.3,147.8 699.2,150.4 700,153 700.8,155.5 701.7,158 702.5,160.4 703.3,162.8 704.2,165.2 705,167.5 705.9,169.6 706.7,171.7 707.5,173.7 708.4,175.6 709.2,177.4 710,179.1 710.9,180.7 711.7,182.1 712.6,183.4 713.4,184.5 714.2,185.5 715.1,186.3 715.9,187 716.7,187.6 717.6,187.9 718.4,188.2 719.2,188.2 720.1,188.1 720.9,187.8 721.8,187.4 722.6,186.7 723.4,185.9 724.3,184.9 725.1,183.8 725.9,182.5 726.8,181 727.6,179.4 728.5,177.6 729.3,175.7 730.1,173.6 731,171.5 731.8,169.2 732.6,166.8 733.5,164.3 734.3,161.7 735.2,159 736,156.3 736.8,153.5 737.7,150.6 738.5,147.7 739.3,144.8 740.2,141.9 741,138.9 741.9,136 742.7,133.1 743.5,130.2 744.4,127.3 745.2,124.5 746,121.7 746.9,119 747.7,116.4 748.6,113.9 749.4,111.4 750.2,109.1 751.1,106.9 751.9,104.8 752.7,102.8 753.6,101 754.4,99.3 755.2,97.8 756.1,96.4 756.9,95.2 757.8,94.1 758.6,93.2 759.4,92.5 760.3,92 761.1,91.6 761.9,91.4 762.8,91.4 763.6,91.6 764.5,92 765.3,92.6 766.1,93.4 767,94.4 767.8,95.6 768.6,96.9 769.5,98.4 770.3,100.1 771.2,102 772,104 772.8,106.2 773.7,108.6 774.5,111 775.3,113.7 776.2,116.4 777,119.2 777.9,122.2 778.7,125.2 779.5,128.4 780.4,131.6 781.2,134.9 782,138.2 782.9,141.6 783.7,145 784.6,148.4 785.4,151.8 786.2,155.2 787.1,158.6 787.9,162 788.7,165.3 789.6,168.6 790.4,171.8 791.2,175 792.1,178.1 792.9,181.1 793.8,184 794.6,186.7 795.4,189.4 796.3,191.9 797.1,194.3 797.9,196.5 798.8,198.6 799.6,200.5 800.5,202.3 801.3,203.8 802.1,205.3 803,206.5 803.8,207.5 804.6,208.3 805.5,209 806.3,209.5 807.2,209.7 808,209.8 808.8,209.6 809.7,209.2 810.5,208.7 811.3,207.9 812.2,206.8 813,205.6 813.9,204.2 814.7,202.6 815.5,200.8 816.4,198.7 817.2,196.6 818,194.2 818.9,191.6 819.7,188.9 820.6,186.1 821.4,183.1 822.2,179.9 823.1,176.7 823.9,173.3 824.7,169.8 825.6,166.2 826.4,162.6 827.2,158.9 828.1,155.1 828.9,151.2 829.8,147.3 830.6,143.4 831.4,139.5 832.3,135.6 833.1,131.7 833.9,127.8 834.8,123.9 835.6,120.1 836.5,116.4 837.3,112.7 838.1,109.1 839,105.6 839.8,102.2 840.6,98.9 841.5,95.8 842.3,92.7 843.2,89.9 844,87.1 844.8,84.5 845.7,82.1 846.5,79.9 847.3,77.9 848.2,76 849,74.3 849.9,72.9 850.7,71.6 851.5,70.6 852.4,69.7 853.2,69.1 854,68.7 854.9,68.5 855.7,68.5 856.6,68.7 857.4,69.2 858.2,69.9 859.1,70.8 859.9,71.9 860.7,73.3 861.6,74.8 862.4,76.6 863.2,78.5 864.1,80.7 864.9,83 865.8,85.5 866.6,88.2 867.4,91.1 868.3,94.1 869.1,97.3 869.9,100.6 870.8,104 871.6,107.6 872.5,111.3 873.3,115.1 874.1,118.9 875,122.9 875.8,126.9 876.6,131 877.5,135.1 878.3,139.3 879.2,143.5 880,147.7 880.8,151.8 881.7,156 882.5,160.2 883.3,164.3 884.2,168.4 885,172.4 885.9,176.4 886.7,180.2 887.5,184 888.4,187.7 889.2,191.2 890,194.6 890.9,197.9 891.7,201.1 892.6,204.1 893.4,206.9 894.2,209.6 895.1,212.1 895.9,214.4 896.7,216.6 897.6,218.5 898.4,220.2 899.2,221.8 900.1,223.1 900.9,224.2 901.8,225.1 902.6,225.7 903.4,226.2 904.3,226.4 905.1,226.4 905.9,226.1 906.8,225.6 907.6,224.9 908.5,223.9 909.3,222.7 910.1,221.2 911,219.5 911.8,217.6 912.6,215.4 913.5,213 914.3,210.4 915.2,207.7 916,204.7 916.8,201.5 917.7,198.2 918.5,194.6 919.3,191 920.2,187.1 921,183.2 921.9,179.1 922.7,174.9 923.5,170.6 924.4,166.3 925.2,161.8 926,157.3 926.9,152.7 927.7,148.2 928.6,143.5 929.4,138.9 930.2,134.3 931.1,129.7 931.9,125.1 932.7,120.6 933.6,116.1 934.4,111.8 935.2,107.5 936.1,103.2 936.9,99.1 937.8,95.2 938.6,91.3 939.4,87.6 940.3,84.1 941.1,80.7 941.9,77.5 942.8,74.5 943.6,71.6 944.5,69 945.3,66.6 946.1,64.4 947,62.4 947.8,60.6 948.6,59.1 949.5,57.8 950.3,56.8 951.2,56 952,55.5 952.8,55.2 953.7,55.1 954.5,55.3 955.3,55.8 956.2,56.6 957,57.7 957.9,59 958.7,60.6 959.5,62.4 960.4,64.5 961.2,66.9 962,69.4 962.9,72.3 963.7,75.3 964.5,78.6 965.4,82 966.2,85.7 967.1,89.6 967.9,93.6 968.7,97.8 969.6,102.1 970.4,106.5 971.2,111.1 972.1,115.8 972.9,120.6 973.8,125.4 974.6,130.4 975.4,135.3 976.3,140.3 977.1,145.3 977.9,150.3 978.8,155.3 979.6,160.3 980.5,165.2 981.3,170.1 982.1,174.8 983,179.5 983.8,184.1 984.6,188.6 985.5,192.9 986.3,197.1 987.2,201.2 988,205 988.8,208.7 989.7,212.2 990.5,215.5 991.3,218.6 992.2,221.4 993,224 993.9,226.4 994.7,228.5 995.5,230.4 996.4,232 997.2,233.3 998,234.4 998.9,235.2 999.7,235.7 1000.5,236 1001.4,236 1002.2,235.6 1003.1,235 1003.9,234.1 1004.7,232.9 1005.6,231.4 1006.4,229.7 1007.2,227.6 1008.1,225.3 1008.9,222.7 1009.8,219.9 1010.6,216.8 1011.4,213.5 1012.3,210 1013.1,206.2 1013.9,202.2 1014.8,198.1 1015.6,193.7 1016.5,189.2 1017.3,184.5 1018.1,179.7 1019,174.8 1019.8,169.7 1020.6,164.6 1021.5,159.3 1022.3,154 1023.2,148.7 1024,143.3 1024.8,137.9 1025.7,132.5 1026.5,127.1 1027.3,121.7 1028.2,116.4 1029,111.1 1029.9,105.9 1030.7,100.8 1031.5,95.9 1032.4,91 1033.2,86.3" fill="none" stroke="#a2222c" stroke-width="2.0" stroke-dasharray="4.5,1.5,2.5,1.5" stroke-linejoin="round"/>
<path d="M614.6,109.4 615.4,109.3 616.3,109.1 617.1,109 617.9,108.9 618.8,108.8 619.6,108.7 620.5,108.6 621.3,108.5 622.1,108.4 623,108.3 623.8,108.2 624.6,108.1 625.5,108.1 626.3,108 627.2,107.9 628,107.8 628.8,107.8 629.7,107.7 630.5,107.6 631.3,107.6 632.2,107.5 633,107.5 633.9,107.4 634.7,107.4 635.5,107.3 636.4,107.3 637.2,107.2 638,107.2 638.9,107.1 639.7,107.1 640.6,107.1 641.4,107 642.2,107 643.1,106.9 643.9,106.9 644.7,106.9 645.6,106.8 646.4,106.8 647.3,106.8 648.1,106.7 648.9,106.7 649.8,106.7 650.6,106.6 651.4,106.6 652.3,106.6 653.1,106.5 653.9,106.5 654.8,106.5 655.6,106.4 656.5,106.4 657.3,106.4 658.1,106.3 659,106.3 659.8,106.3 660.6,106.2 661.5,106.2 662.3,106.2 663.2,106.1 664,106.1 664.8,106 665.7,106 666.5,106 667.3,105.9 668.2,105.9 669,105.8 669.9,105.8 670.7,105.7 671.5,105.7 672.4,105.6 673.2,105.6 674,105.5 674.9,105.5 675.7,105.4 676.6,105.3 677.4,105.3 678.2,105.2 679.1,105.2 679.9,105.1 680.7,105 681.6,105 682.4,104.9 683.3,104.8 684.1,104.7 684.9,104.7 685.8,104.6 686.6,104.5 687.4,104.4 688.3,104.4 689.1,104.3 689.9,104.2 690.8,104.1 691.6,104 692.5,103.9 693.3,103.8 694.1,103.7 695,103.6 695.8,103.5 696.6,103.4 697.5,103.3 698.3,103.2 699.2,103.1 700,103 700.8,102.9 701.7,102.8 702.5,102.7 703.3,102.6 704.2,102.4 705,102.3 705.9,102.2 706.7,102.1 707.5,101.9 708.4,101.8 709.2,101.7 710,101.6 710.9,101.4 711.7,101.3 712.6,101.2 713.4,101 714.2,100.9 715.1,100.7 715.9,100.6 716.7,100.4 717.6,100.3 718.4,100.1 719.2,100 720.1,99.8 720.9,99.7 721.8,99.5 722.6,99.4 723.4,99.2 724.3,99 725.1,98.9 725.9,98.7 726.8,98.6 727.6,98.4 728.5,98.2 729.3,98 730.1,97.9 731,97.7 731.8,97.5 732.6,97.3 733.5,97.2 734.3,97 735.2,96.8 736,96.6 736.8,96.4 737.7,96.2 738.5,96.1 739.3,95.9 740.2,95.7 741,95.5 741.9,95.3 742.7,95.1 743.5,94.9 744.4,94.7 745.2,94.5 746,94.3 746.9,94.1 747.7,93.9 748.6,93.7 749.4,93.5 750.2,93.3 751.1,93.1 751.9,92.9 752.7,92.7 753.6,92.5 754.4,92.3 755.2,92.1 756.1,91.9 756.9,91.6 757.8,91.4 758.6,91.2 759.4,91 760.3,90.8 761.1,90.6 761.9,90.4 762.8,90.1 763.6,89.9 764.5,89.7 765.3,89.5 766.1,89.3 767,89.1 767.8,88.8 768.6,88.6 769.5,88.4 770.3,88.2 771.2,88 772,87.7 772.8,87.5 773.7,87.3 774.5,87.1 775.3,86.9 776.2,86.6 777,86.4 777.9,86.2 778.7,86 779.5,85.7 780.4,85.5 781.2,85.3 782,85.1 782.9,84.9 783.7,84.6 784.6,84.4 785.4,84.2 786.2,84 787.1,83.7 787.9,83.5 788.7,83.3 789.6,83.1 790.4,82.9 791.2,82.6 792.1,82.4 792.9,82.2 793.8,82 794.6,81.8 795.4,81.5 796.3,81.3 797.1,81.1 797.9,80.9 798.8,80.7 799.6,80.4 800.5,80.2 801.3,80 802.1,79.8 803,79.6 803.8,79.4 804.6,79.2 805.5,78.9 806.3,78.7 807.2,78.5 808,78.3 808.8,78.1 809.7,77.9 810.5,77.7 811.3,77.5 812.2,77.3 813,77 813.9,76.8 814.7,76.6 815.5,76.4 816.4,76.2 817.2,76 818,75.8 818.9,75.6 819.7,75.4 820.6,75.2 821.4,75 822.2,74.8 823.1,74.6 823.9,74.4 824.7,74.2 825.6,74 826.4,73.8 827.2,73.6 828.1,73.5 828.9,73.3 829.8,73.1 830.6,72.9 831.4,72.7 832.3,72.5 833.1,72.3 833.9,72.1 834.8,72 835.6,71.8 836.5,71.6 837.3,71.4 838.1,71.2 839,71.1 839.8,70.9 840.6,70.7 841.5,70.5 842.3,70.4 843.2,70.2 844,70 844.8,69.8 845.7,69.7 846.5,69.5 847.3,69.3 848.2,69.2 849,69 849.9,68.8 850.7,68.7 851.5,68.5 852.4,68.4 853.2,68.2 854,68 854.9,67.9 855.7,67.7 856.6,67.6 857.4,67.4 858.2,67.3 859.1,67.1 859.9,67 860.7,66.8 861.6,66.7 862.4,66.5 863.2,66.4 864.1,66.2 864.9,66.1 865.8,65.9 866.6,65.8 867.4,65.7 868.3,65.5 869.1,65.4 869.9,65.3 870.8,65.1 871.6,65 872.5,64.8 873.3,64.7 874.1,64.6 875,64.5 875.8,64.3 876.6,64.2 877.5,64.1 878.3,63.9 879.2,63.8 880,63.7 880.8,63.6 881.7,63.4 882.5,63.3 883.3,63.2 884.2,63.1 885,63 885.9,62.9 886.7,62.7 887.5,62.6 888.4,62.5 889.2,62.4 890,62.3 890.9,62.2 891.7,62.1 892.6,61.9 893.4,61.8 894.2,61.7 895.1,61.6 895.9,61.5 896.7,61.4 897.6,61.3 898.4,61.2 899.2,61.1 900.1,61 900.9,60.9 901.8,60.8 902.6,60.7 903.4,60.6 904.3,60.5 905.1,60.4 905.9,60.3 906.8,60.2 907.6,60.1 908.5,60 909.3,59.9 910.1,59.8 911,59.7 911.8,59.6 912.6,59.5 913.5,59.4 914.3,59.3 915.2,59.2 916,59.1 916.8,59.1 917.7,59 918.5,58.9 919.3,58.8 920.2,58.7 921,58.6 921.9,58.5 922.7,58.4 923.5,58.3 924.4,58.3 925.2,58.2 926,58.1 926.9,58 927.7,57.9 928.6,57.8 929.4,57.7 930.2,57.6 931.1,57.6 931.9,57.5 932.7,57.4 933.6,57.3 934.4,57.2 935.2,57.1 936.1,57.1 936.9,57 937.8,56.9 938.6,56.8 939.4,56.7 940.3,56.6 941.1,56.6 941.9,56.5 942.8,56.4 943.6,56.3 944.5,56.2 945.3,56.2 946.1,56.1 947,56 947.8,55.9 948.6,55.8 949.5,55.7 950.3,55.7 951.2,55.6 952,55.5 952.8,55.4 953.7,55.3 954.5,55.3 955.3,55.2 956.2,55.1 957,55 957.9,54.9 958.7,54.9 959.5,54.8 960.4,54.7 961.2,54.6 962,54.5 962.9,54.5 963.7,54.4 964.5,54.3 965.4,54.2 966.2,54.1 967.1,54.1 967.9,54 968.7,53.9 969.6,53.8 970.4,53.8 971.2,53.7 972.1,53.6 972.9,53.5 973.8,53.4 974.6,53.4 975.4,53.3 976.3,53.2 977.1,53.1 977.9,53.1 978.8,53 979.6,52.9 980.5,52.8 981.3,52.8 982.1,52.7 983,52.6 983.8,52.6 984.6,52.5 985.5,52.4 986.3,52.3 987.2,52.3 988,52.2 988.8,52.1 989.7,52.1 990.5,52 991.3,51.9 992.2,51.9 993,51.8 993.9,51.7 994.7,51.7 995.5,51.6 996.4,51.5 997.2,51.5 998,51.4 998.9,51.4 999.7,51.3 1000.5,51.3 1001.4,51.2 1002.2,51.2 1003.1,51.1 1003.9,51.1 1004.7,51 1005.6,51 1006.4,50.9 1007.2,50.9 1008.1,50.8 1008.9,50.8 1009.8,50.8 1010.6,50.7 1011.4,50.7 1012.3,50.6 1013.1,50.6 1013.9,50.6 1014.8,50.6 1015.6,50.5 1016.5,50.5 1017.3,50.5 1018.1,50.5 1019,50.5 1019.8,50.5 1020.6,50.5 1021.5,50.5 1022.3,50.5 1023.2,50.5 1024,50.5 1024.8,50.5 1025.7,50.5 1026.5,50.5 1027.3,50.5 1028.2,50.5 1029,50.6 1029.9,50.6 1030.7,50.6 1031.5,50.7 1032.4,50.7 1033.2,50.8" fill="none" stroke="#d21a1f" stroke-width="2.7" stroke-linejoin="round"/>
<path d="M614.6,133.9 615.4,133.6 616.3,133.3 617.1,133 617.9,132.8 618.8,132.6 619.6,132.5 620.5,132.4 621.3,132.3 622.1,132.3 623,132.3 623.8,132.4 624.6,132.5 625.5,132.7 626.3,132.9 627.2,133.1 628,133.4 628.8,133.7 629.7,134.1 630.5,134.5 631.3,134.9 632.2,135.4 633,135.9 633.9,136.4 634.7,137 635.5,137.6 636.4,138.2 637.2,138.9 638,139.5 638.9,140.2 639.7,140.9 640.6,141.7 641.4,142.4 642.2,143.2 643.1,143.9 643.9,144.7 644.7,145.4 645.6,146.2 646.4,147 647.3,147.7 648.1,148.5 648.9,149.3 649.8,150 650.6,150.7 651.4,151.4 652.3,152.1 653.1,152.8 653.9,153.4 654.8,154 655.6,154.6 656.5,155.2 657.3,155.7 658.1,156.2 659,156.7 659.8,157.1 660.6,157.5 661.5,157.9 662.3,158.2 663.2,158.5 664,158.7 664.8,158.9 665.7,159 666.5,159.1 667.3,159.2 668.2,159.2 669,159.1 669.9,159 670.7,158.9 671.5,158.7 672.4,158.4 673.2,158.1 674,157.7 674.9,157.2 675.7,156.7 676.6,156.2 677.4,155.6 678.2,154.9 679.1,154.2 679.9,153.5 680.7,152.7 681.6,151.9 682.4,151 683.3,150.2 684.1,149.3 684.9,148.3 685.8,147.4 686.6,146.4 687.4,145.4 688.3,144.4 689.1,143.4 689.9,142.4 690.8,141.3 691.6,140.3 692.5,139.3 693.3,138.3 694.1,137.3 695,136.3 695.8,135.4 696.6,134.4 697.5,133.5 698.3,132.6 699.2,131.8 700,130.9 700.8,130.2 701.7,129.4 702.5,128.7 703.3,128.1 704.2,127.5 705,126.9 705.9,126.4 706.7,126 707.5,125.6 708.4,125.2 709.2,124.9 710,124.7 710.9,124.5 711.7,124.4 712.6,124.4 713.4,124.4 714.2,124.5 715.1,124.6 715.9,124.9 716.7,125.2 717.6,125.5 718.4,125.9 719.2,126.4 720.1,127 720.9,127.6 721.8,128.3 722.6,129 723.4,129.8 724.3,130.6 725.1,131.5 725.9,132.4 726.8,133.4 727.6,134.4 728.5,135.5 729.3,136.6 730.1,137.7 731,138.8 731.8,140 732.6,141.2 733.5,142.3 734.3,143.5 735.2,144.7 736,145.9 736.8,147.1 737.7,148.3 738.5,149.5 739.3,150.7 740.2,151.8 741,153 741.9,154.1 742.7,155.1 743.5,156.2 744.4,157.2 745.2,158.1 746,159 746.9,159.9 747.7,160.7 748.6,161.5 749.4,162.2 750.2,162.8 751.1,163.4 751.9,163.9 752.7,164.4 753.6,164.8 754.4,165.1 755.2,165.3 756.1,165.5 756.9,165.7 757.8,165.7 758.6,165.7 759.4,165.6 760.3,165.4 761.1,165.2 761.9,164.9 762.8,164.5 763.6,164.1 764.5,163.6 765.3,163 766.1,162.4 767,161.7 767.8,160.9 768.6,160.1 769.5,159.3 770.3,158.4 771.2,157.4 772,156.4 772.8,155.4 773.7,154.3 774.5,153.2 775.3,152 776.2,150.8 777,149.6 777.9,148.4 778.7,147.2 779.5,146 780.4,144.7 781.2,143.5 782,142.2 782.9,141 783.7,139.7 784.6,138.5 785.4,137.3 786.2,136.1 787.1,134.9 787.9,133.8 788.7,132.7 789.6,131.6 790.4,130.6 791.2,129.6 792.1,128.6 792.9,127.7 793.8,126.9 794.6,126.1 795.4,125.3 796.3,124.7 797.1,124 797.9,123.5 798.8,123 799.6,122.6 800.5,122.2 801.3,121.9 802.1,121.7 803,121.6 803.8,121.5 804.6,121.5 805.5,121.5 806.3,121.7 807.2,121.9 808,122.1 808.8,122.5 809.7,122.9 810.5,123.3 811.3,123.9 812.2,124.5 813,125.1 813.9,125.9 814.7,126.6 815.5,127.5 816.4,128.3 817.2,129.3 818,130.2 818.9,131.2 819.7,132.3 820.6,133.4 821.4,134.5 822.2,135.7 823.1,136.8 823.9,138 824.7,139.3 825.6,140.5 826.4,141.8 827.2,143 828.1,144.3 828.9,145.5 829.8,146.8 830.6,148 831.4,149.3 832.3,150.5 833.1,151.7 833.9,152.9 834.8,154 835.6,155.1 836.5,156.2 837.3,157.3 838.1,158.3 839,159.3 839.8,160.2 840.6,161.1 841.5,161.9 842.3,162.6 843.2,163.3 844,164 844.8,164.6 845.7,165.1 846.5,165.6 847.3,166 848.2,166.3 849,166.6 849.9,166.8 850.7,166.9 851.5,167 852.4,166.9 853.2,166.8 854,166.7 854.9,166.4 855.7,166.1 856.6,165.7 857.4,165.3 858.2,164.8 859.1,164.2 859.9,163.5 860.7,162.8 861.6,162 862.4,161.2 863.2,160.3 864.1,159.3 864.9,158.3 865.8,157.3 866.6,156.2 867.4,155.1 868.3,153.9 869.1,152.7 869.9,151.5 870.8,150.2 871.6,148.9 872.5,147.7 873.3,146.4 874.1,145 875,143.7 875.8,142.4 876.6,141.1 877.5,139.8 878.3,138.5 879.2,137.2 880,136 880.8,134.8 881.7,133.6 882.5,132.4 883.3,131.3 884.2,130.2 885,129.1 885.9,128.2 886.7,127.2 887.5,126.3 888.4,125.5 889.2,124.7 890,124 890.9,123.3 891.7,122.8 892.6,122.2 893.4,121.8 894.2,121.4 895.1,121.1 895.9,120.9 896.7,120.7 897.6,120.6 898.4,120.6 899.2,120.7 900.1,120.8 900.9,121.1 901.8,121.4 902.6,121.7 903.4,122.2 904.3,122.7 905.1,123.2 905.9,123.9 906.8,124.6 907.6,125.4 908.5,126.2 909.3,127.1 910.1,128 911,129 911.8,130.1 912.6,131.2 913.5,132.3 914.3,133.5 915.2,134.7 916,135.9 916.8,137.1 917.7,138.4 918.5,139.7 919.3,141 920.2,142.3 921,143.7 921.9,145 922.7,146.3 923.5,147.6 924.4,148.9 925.2,150.2 926,151.5 926.9,152.7 927.7,153.9 928.6,155.1 929.4,156.2 930.2,157.3 931.1,158.4 931.9,159.4 932.7,160.3 933.6,161.2 934.4,162.1 935.2,162.8 936.1,163.6 936.9,164.2 937.8,164.8 938.6,165.3 939.4,165.8 940.3,166.2 941.1,166.5 941.9,166.7 942.8,166.9 943.6,166.9 944.5,166.9 945.3,166.9 946.1,166.7 947,166.5 947.8,166.2 948.6,165.9 949.5,165.4 950.3,164.9 951.2,164.4 952,163.7 952.8,163 953.7,162.3 954.5,161.4 955.3,160.6 956.2,159.6 957,158.7 957.9,157.6 958.7,156.6 959.5,155.5 960.4,154.3 961.2,153.1 962,151.9 962.9,150.7 963.7,149.4 964.5,148.2 965.4,146.9 966.2,145.6 967.1,144.3 967.9,143 968.7,141.7 969.6,140.5 970.4,139.2 971.2,137.9 972.1,136.7 972.9,135.5 973.8,134.4 974.6,133.2 975.4,132.1 976.3,131.1 977.1,130.1 977.9,129.1 978.8,128.2 979.6,127.4 980.5,126.6 981.3,125.9 982.1,125.2 983,124.6 983.8,124.1 984.6,123.6 985.5,123.2 986.3,122.9 987.2,122.6 988,122.4 988.8,122.3 989.7,122.3 990.5,122.3 991.3,122.4 992.2,122.6 993,122.9 993.9,123.2 994.7,123.5 995.5,124 996.4,124.5 997.2,125 998,125.7 998.9,126.3 999.7,127.1 1000.5,127.9 1001.4,128.7 1002.2,129.6 1003.1,130.5 1003.9,131.5 1004.7,132.5 1005.6,133.5 1006.4,134.6 1007.2,135.7 1008.1,136.8 1008.9,137.9 1009.8,139.1 1010.6,140.3 1011.4,141.4 1012.3,142.6 1013.1,143.8 1013.9,145 1014.8,146.2 1015.6,147.4 1016.5,148.5 1017.3,149.7 1018.1,150.8 1019,151.9 1019.8,152.9 1020.6,154 1021.5,155 1022.3,155.9 1023.2,156.9 1024,157.7 1024.8,158.6 1025.7,159.3 1026.5,160.1 1027.3,160.7 1028.2,161.3 1029,161.9 1029.9,162.4 1030.7,162.8 1031.5,163.2 1032.4,163.5 1033.2,163.7" fill="none" stroke="#1c2284" stroke-width="2.0" stroke-dasharray="4.5,1.5,2.5,1.5" stroke-linejoin="round"/>
<path d="M614.6,133.2 615.4,133.1 616.3,133 617.1,132.9 617.9,132.8 618.8,132.7 619.6,132.6 620.5,132.5 621.3,132.4 622.1,132.3 623,132.2 623.8,132.1 624.6,132 625.5,131.9 626.3,131.8 627.2,131.7 628,131.6 628.8,131.5 629.7,131.4 630.5,131.3 631.3,131.2 632.2,131.1 633,131 633.9,131 634.7,130.9 635.5,130.8 636.4,130.7 637.2,130.6 638,130.5 638.9,130.4 639.7,130.3 640.6,130.2 641.4,130.2 642.2,130.1 643.1,130 643.9,129.9 644.7,129.8 645.6,129.7 646.4,129.6 647.3,129.6 648.1,129.5 648.9,129.4 649.8,129.3 650.6,129.2 651.4,129.1 652.3,129.1 653.1,129 653.9,128.9 654.8,128.8 655.6,128.7 656.5,128.7 657.3,128.6 658.1,128.5 659,128.4 659.8,128.3 660.6,128.3 661.5,128.2 662.3,128.1 663.2,128 664,128 664.8,127.9 665.7,127.8 666.5,127.7 667.3,127.7 668.2,127.6 669,127.5 669.9,127.4 670.7,127.4 671.5,127.3 672.4,127.2 673.2,127.2 674,127.1 674.9,127 675.7,126.9 676.6,126.9 677.4,126.8 678.2,126.7 679.1,126.7 679.9,126.6 680.7,126.5 681.6,126.5 682.4,126.4 683.3,126.3 684.1,126.3 684.9,126.2 685.8,126.1 686.6,126.1 687.4,126 688.3,126 689.1,125.9 689.9,125.8 690.8,125.8 691.6,125.7 692.5,125.6 693.3,125.6 694.1,125.5 695,125.5 695.8,125.4 696.6,125.3 697.5,125.3 698.3,125.2 699.2,125.2 700,125.1 700.8,125.1 701.7,125 702.5,124.9 703.3,124.9 704.2,124.8 705,124.8 705.9,124.7 706.7,124.7 707.5,124.6 708.4,124.6 709.2,124.5 710,124.5 710.9,124.4 711.7,124.3 712.6,124.3 713.4,124.2 714.2,124.2 715.1,124.1 715.9,124.1 716.7,124 717.6,124 718.4,123.9 719.2,123.9 720.1,123.9 720.9,123.8 721.8,123.8 722.6,123.7 723.4,123.7 724.3,123.6 725.1,123.6 725.9,123.5 726.8,123.5 727.6,123.4 728.5,123.4 729.3,123.4 730.1,123.3 731,123.3 731.8,123.2 732.6,123.2 733.5,123.1 734.3,123.1 735.2,123.1 736,123 736.8,123 737.7,122.9 738.5,122.9 739.3,122.9 740.2,122.8 741,122.8 741.9,122.7 742.7,122.7 743.5,122.7 744.4,122.6 745.2,122.6 746,122.6 746.9,122.5 747.7,122.5 748.6,122.4 749.4,122.4 750.2,122.4 751.1,122.3 751.9,122.3 752.7,122.3 753.6,122.2 754.4,122.2 755.2,122.2 756.1,122.1 756.9,122.1 757.8,122.1 758.6,122 759.4,122 760.3,122 761.1,122 761.9,121.9 762.8,121.9 763.6,121.9 764.5,121.8 765.3,121.8 766.1,121.8 767,121.8 767.8,121.7 768.6,121.7 769.5,121.7 770.3,121.6 771.2,121.6 772,121.6 772.8,121.6 773.7,121.5 774.5,121.5 775.3,121.5 776.2,121.5 777,121.4 777.9,121.4 778.7,121.4 779.5,121.4 780.4,121.4 781.2,121.3 782,121.3 782.9,121.3 783.7,121.3 784.6,121.2 785.4,121.2 786.2,121.2 787.1,121.2 787.9,121.2 788.7,121.1 789.6,121.1 790.4,121.1 791.2,121.1 792.1,121.1 792.9,121 793.8,121 794.6,121 795.4,121 796.3,121 797.1,121 797.9,120.9 798.8,120.9 799.6,120.9 800.5,120.9 801.3,120.9 802.1,120.9 803,120.8 803.8,120.8 804.6,120.8 805.5,120.8 806.3,120.8 807.2,120.8 808,120.8 808.8,120.7 809.7,120.7 810.5,120.7 811.3,120.7 812.2,120.7 813,120.7 813.9,120.7 814.7,120.7 815.5,120.6 816.4,120.6 817.2,120.6 818,120.6 818.9,120.6 819.7,120.6 820.6,120.6 821.4,120.6 822.2,120.6 823.1,120.5 823.9,120.5 824.7,120.5 825.6,120.5 826.4,120.5 827.2,120.5 828.1,120.5 828.9,120.5 829.8,120.5 830.6,120.5 831.4,120.5 832.3,120.5 833.1,120.5 833.9,120.4 834.8,120.4 835.6,120.4 836.5,120.4 837.3,120.4 838.1,120.4 839,120.4 839.8,120.4 840.6,120.4 841.5,120.4 842.3,120.4 843.2,120.4 844,120.4 844.8,120.4 845.7,120.4 846.5,120.4 847.3,120.4 848.2,120.4 849,120.4 849.9,120.4 850.7,120.4 851.5,120.4 852.4,120.4 853.2,120.4 854,120.4 854.9,120.4 855.7,120.3 856.6,120.3 857.4,120.3 858.2,120.3 859.1,120.3 859.9,120.3 860.7,120.3 861.6,120.3 862.4,120.3 863.2,120.3 864.1,120.3 864.9,120.3 865.8,120.3 866.6,120.3 867.4,120.4 868.3,120.4 869.1,120.4 869.9,120.4 870.8,120.4 871.6,120.4 872.5,120.4 873.3,120.4 874.1,120.4 875,120.4 875.8,120.4 876.6,120.4 877.5,120.4 878.3,120.4 879.2,120.4 880,120.4 880.8,120.4 881.7,120.4 882.5,120.4 883.3,120.4 884.2,120.4 885,120.4 885.9,120.4 886.7,120.4 887.5,120.4 888.4,120.4 889.2,120.4 890,120.4 890.9,120.5 891.7,120.5 892.6,120.5 893.4,120.5 894.2,120.5 895.1,120.5 895.9,120.5 896.7,120.5 897.6,120.5 898.4,120.5 899.2,120.5 900.1,120.5 900.9,120.5 901.8,120.5 902.6,120.6 903.4,120.6 904.3,120.6 905.1,120.6 905.9,120.6 906.8,120.6 907.6,120.6 908.5,120.6 909.3,120.6 910.1,120.6 911,120.6 911.8,120.7 912.6,120.7 913.5,120.7 914.3,120.7 915.2,120.7 916,120.7 916.8,120.7 917.7,120.7 918.5,120.7 919.3,120.7 920.2,120.8 921,120.8 921.9,120.8 922.7,120.8 923.5,120.8 924.4,120.8 925.2,120.8 926,120.8 926.9,120.9 927.7,120.9 928.6,120.9 929.4,120.9 930.2,120.9 931.1,120.9 931.9,120.9 932.7,120.9 933.6,121 934.4,121 935.2,121 936.1,121 936.9,121 937.8,121 938.6,121 939.4,121.1 940.3,121.1 941.1,121.1 941.9,121.1 942.8,121.1 943.6,121.1 944.5,121.1 945.3,121.2 946.1,121.2 947,121.2 947.8,121.2 948.6,121.2 949.5,121.2 950.3,121.3 951.2,121.3 952,121.3 952.8,121.3 953.7,121.3 954.5,121.3 955.3,121.4 956.2,121.4 957,121.4 957.9,121.4 958.7,121.4 959.5,121.5 960.4,121.5 961.2,121.5 962,121.5 962.9,121.5 963.7,121.6 964.5,121.6 965.4,121.6 966.2,121.6 967.1,121.6 967.9,121.7 968.7,121.7 969.6,121.7 970.4,121.7 971.2,121.7 972.1,121.8 972.9,121.8 973.8,121.8 974.6,121.8 975.4,121.8 976.3,121.9 977.1,121.9 977.9,121.9 978.8,121.9 979.6,122 980.5,122 981.3,122 982.1,122 983,122.1 983.8,122.1 984.6,122.1 985.5,122.1 986.3,122.2 987.2,122.2 988,122.2 988.8,122.2 989.7,122.3 990.5,122.3 991.3,122.3 992.2,122.3 993,122.4 993.9,122.4 994.7,122.4 995.5,122.4 996.4,122.5 997.2,122.5 998,122.5 998.9,122.6 999.7,122.6 1000.5,122.6 1001.4,122.6 1002.2,122.7 1003.1,122.7 1003.9,122.7 1004.7,122.8 1005.6,122.8 1006.4,122.8 1007.2,122.9 1008.1,122.9 1008.9,122.9 1009.8,123 1010.6,123 1011.4,123 1012.3,123.1 1013.1,123.1 1013.9,123.1 1014.8,123.2 1015.6,123.2 1016.5,123.2 1017.3,123.3 1018.1,123.3 1019,123.3 1019.8,123.4 1020.6,123.4 1021.5,123.4 1022.3,123.5 1023.2,123.5 1024,123.5 1024.8,123.6 1025.7,123.6 1026.5,123.7 1027.3,123.7 1028.2,123.7 1029,123.8 1029.9,123.8 1030.7,123.9 1031.5,123.9 1032.4,123.9 1033.2,124" fill="none" stroke="#1030c4" stroke-width="2.7" stroke-linejoin="round"/>
<path d="M614.6,18.8 L614.6,269.2 L1033.2,269.2" fill="none" stroke="#222222" stroke-width="1.5"/>
<line x1="609.6" y1="18.8" x2="614.6" y2="18.8" stroke="#222222" stroke-width="1.4"/>
<text x="604.9" y="24.2" text-anchor="end" class="tk">0.3</text>
<line x1="609.6" y1="60.5" x2="614.6" y2="60.5" stroke="#222222" stroke-width="1.4"/>
<text x="604.9" y="65.9" text-anchor="end" class="tk">0.2</text>
<line x1="609.6" y1="102.3" x2="614.6" y2="102.3" stroke="#222222" stroke-width="1.4"/>
<text x="604.9" y="107.7" text-anchor="end" class="tk">0.1</text>
<line x1="609.6" y1="144.0" x2="614.6" y2="144.0" stroke="#222222" stroke-width="1.4"/>
<text x="604.9" y="149.4" text-anchor="end" class="tk">0</text>
<line x1="609.6" y1="185.7" x2="614.6" y2="185.7" stroke="#222222" stroke-width="1.4"/>
<text x="604.9" y="191.1" text-anchor="end" class="tk">-0.1</text>
<line x1="609.6" y1="227.5" x2="614.6" y2="227.5" stroke="#222222" stroke-width="1.4"/>
<text x="604.9" y="232.9" text-anchor="end" class="tk">-0.2</text>
<line x1="609.6" y1="269.2" x2="614.6" y2="269.2" stroke="#222222" stroke-width="1.4"/>
<text x="604.9" y="274.6" text-anchor="end" class="tk">-0.3</text>
<line x1="614.6" y1="269.2" x2="614.6" y2="274.2" stroke="#222222" stroke-width="1.4"/>
<text x="614.6" y="292.6" text-anchor="middle" class="tk">100</text>
<line x1="698.3" y1="269.2" x2="698.3" y2="274.2" stroke="#222222" stroke-width="1.4"/>
<text x="698.3" y="292.6" text-anchor="middle" class="tk">110</text>
<line x1="782.0" y1="269.2" x2="782.0" y2="274.2" stroke="#222222" stroke-width="1.4"/>
<text x="782.0" y="292.6" text-anchor="middle" class="tk">120</text>
<line x1="865.8" y1="269.2" x2="865.8" y2="274.2" stroke="#222222" stroke-width="1.4"/>
<text x="865.8" y="292.6" text-anchor="middle" class="tk">130</text>
<line x1="949.5" y1="269.2" x2="949.5" y2="274.2" stroke="#222222" stroke-width="1.4"/>
<text x="949.5" y="292.6" text-anchor="middle" class="tk">140</text>
<line x1="1033.2" y1="269.2" x2="1033.2" y2="274.2" stroke="#222222" stroke-width="1.4"/>
<text x="1033.2" y="292.6" text-anchor="middle" class="tk">150</text>
<text x="798.92" y="311.10" textLength="50.50" lengthAdjust="spacingAndGlyphs" style="font-family:'Liberation Sans', sans-serif;font-size:14.2px;">Time (s)</text>
<text transform="rotate(-90)" x="-245.75" y="573.40" textLength="203.10" lengthAdjust="spacingAndGlyphs" style="font-family:'Liberation Sans',sans-serif;font-size:14.3px;">Changes in concnetration(<tspan style="font-family:'Liberation Serif',serif;font-style:italic">μ</tspan> M)</text>
<text x="650.87" y="13.90" textLength="188.94" lengthAdjust="spacingAndGlyphs" style="font-family:'Liberation Sans', sans-serif;font-size:14.2px;font-weight:bold;">Phase Difference (Hb-HbO)</text>
<text x="845.28" y="13.90" textLength="11.62" lengthAdjust="spacingAndGlyphs" style="font-family:'Liberation Serif', serif;font-size:14.2px;">Δ</text>
<text x="857.42" y="13.90" textLength="9.91" lengthAdjust="spacingAndGlyphs" style="font-family:'Liberation Serif', serif;font-size:14.2px;font-style:italic;">ϕ</text>
<text x="870.22" y="13.90" textLength="9.93" lengthAdjust="spacingAndGlyphs" style="font-family:'Liberation Sans', sans-serif;font-size:14.2px;font-weight:bold;">=</text>
<text x="883.60" y="13.90" textLength="56.92" lengthAdjust="spacingAndGlyphs" style="font-family:'Liberation Sans', sans-serif;font-size:14.2px;font-weight:bold;">-174.84°</text>
<text x="945.07" y="13.90" textLength="11.54" lengthAdjust="spacingAndGlyphs" style="font-family:'Liberation Sans', sans-serif;font-size:14.2px;">±</text>
<text x="961.65" y="13.90" textLength="33.05" lengthAdjust="spacingAndGlyphs" style="font-family:'Liberation Sans', sans-serif;font-size:14.2px;font-weight:bold;">1.06°</text>
<text x="549.29" y="23.70" textLength="25.40" lengthAdjust="spacingAndGlyphs" style="font-family:'Liberation Sans', sans-serif;font-size:18px;font-weight:bold;">(B)</text>
<rect x="642.7" y="189.6" width="153.0" height="74.9" fill="#fff"/>
<line x1="642.7" y1="189.6" x2="795.7" y2="189.6" stroke="#e2e2e2" stroke-width="1"/>
<line x1="642.7" y1="264.5" x2="795.7" y2="264.5" stroke="#b4b4b4" stroke-width="1"/>
<line x1="642.7" y1="189.6" x2="642.7" y2="265.0" stroke="#5a5a5a" stroke-width="1"/>
<line x1="795.7" y1="189.6" x2="795.7" y2="265.0" stroke="#8e8e8e" stroke-width="1"/>
<line x1="645.8" y1="200.4" x2="672.8" y2="200.4" stroke="#a52a2e" stroke-width="1.7" stroke-dasharray="6.6,1.8,2.4,1.8"/>
<text x="676.66" y="205.70" textLength="11.85" lengthAdjust="spacingAndGlyphs" style="font-family:'Liberation Serif', serif;font-size:14.3px;">Δ</text>
<text x="688.15" y="205.70" textLength="88.83" lengthAdjust="spacingAndGlyphs" style="font-family:'Liberation Sans', sans-serif;font-size:14.3px;">[HbO]-filtered</text>
<line x1="645.8" y1="218.4" x2="672.8" y2="218.4" stroke="#d21a1f" stroke-width="2.7"/>
<text x="676.66" y="223.70" textLength="11.85" lengthAdjust="spacingAndGlyphs" style="font-family:'Liberation Serif', serif;font-size:14.3px;">Δ</text>
<text x="688.16" y="223.70" textLength="103.98" lengthAdjust="spacingAndGlyphs" style="font-family:'Liberation Sans', sans-serif;font-size:14.3px;">[HbO]-envelope</text>
<line x1="645.8" y1="236.4" x2="672.8" y2="236.4" stroke="#1a2a8a" stroke-width="1.7" stroke-dasharray="6.6,1.8,2.4,1.8"/>
<text x="676.66" y="241.70" textLength="11.85" lengthAdjust="spacingAndGlyphs" style="font-family:'Liberation Serif', serif;font-size:14.3px;">Δ</text>
<text x="688.14" y="241.70" textLength="78.09" lengthAdjust="spacingAndGlyphs" style="font-family:'Liberation Sans', sans-serif;font-size:14.3px;">[Hb]-filtered</text>
<line x1="645.8" y1="254.4" x2="672.8" y2="254.4" stroke="#1030c0" stroke-width="2.7"/>
<text x="676.66" y="259.70" textLength="11.85" lengthAdjust="spacingAndGlyphs" style="font-family:'Liberation Serif', serif;font-size:14.3px;">Δ</text>
<text x="688.16" y="259.70" textLength="92.93" lengthAdjust="spacingAndGlyphs" style="font-family:'Liberation Sans', sans-serif;font-size:14.3px;">[Hb]-envelope</text>
<path d="M63,461.7 63.3,410.1 63.6,414.9 64.1,483.6 64.8,482.7 65.4,469.3 65.8,448.2 66.6,476 66.8,472.8 67.5,466.8 67.5,429.9 68.1,431.9 69.2,489.7 69.9,488.6 70.5,472.4 72,445.4 72.8,482.2 73.6,470.5 74,474.1 74.7,419.3 75.3,422.1 76.4,558.4 77.1,553.3 77.7,472.4 79.1,457.8 79.8,474.8 80,516.3 80.5,443.9 80.8,470.6 81.1,445.4 83.5,515.3 84.2,512.9 84.9,473.1 85.9,472.4 86.3,460.3 86.6,439.8 87.1,491.1 87.2,441.5 88,475.4 90.7,504 91.4,502.2 92.1,471.6 93,469.4 93.5,455.3 93.8,434.7 94.3,487.8 94.3,436.5 95.1,473.7 97.9,510.2 98.5,507.8 99.2,472.7 100.1,458.9 100.2,469.5 101,486 101,439.8 101.5,441.2 101.8,470 104.1,507.1 104.7,504.8 105.4,472.1 106.8,457 107.6,487.3 108.4,467.4 108.5,469 109.2,446.9 109.8,447.8 111.2,500 111.9,497.9 112.5,468.1 114,457.6 114.5,463 114.8,477.7 115.3,445 115.6,462.9 115.9,445.8 118.4,500 119.1,497.7 119.7,464.1 120.7,462.4 121.1,445.4 121.4,432.6 122,484.1 122,434.1 122.8,461 125.5,506.1 126.2,503.5 126.8,464.3 126.9,460.6 127.5,434.7 127.7,451.3 128.1,436.1 128.6,478.9 129.4,462.2 131.6,508.1 132.3,505.4 133,461.8 134,467.8 134.4,452.3 134.7,434.7 135.2,480.1 135.3,436.2 136.1,460.2 138.8,511.2 139.5,508.4 140.2,466.5 141.6,457.7 142.4,489.1 143.2,468.8 143.5,468.3 144.3,453.4 144.9,454.2 146,512.3 146.6,509.6 147.3,467.4 148.7,463.5 149.6,495 150.2,470.5 150.4,465.6 151,461.9 151.6,462.5 153.2,534.8 153.8,531.1 154.5,470.9 155.9,469.2 156.7,493.5 157.6,470.2 157.9,477.7 158.6,463.7 159.2,464.2 160.3,534.8 161,531.2 161.6,473.6 162.8,475.2 163.1,470.7 163.6,464.8 163.9,499.9 164.1,465.3 164.7,478.7 167.5,526.6 168.2,523.6 168.8,476.5 170.2,469.3 171.1,504.3 171.9,476.9 172.2,474.9 172.9,464 173.5,464.5 174.6,535.8 175.3,532.2 176,474.2 177.4,471 178.2,496 179.1,473.6 179.6,472.1 180.3,463.4 180.9,463.8 181.8,528.7 182.5,525.3 183.2,470.9 184,467.6 184.9,503.2 185.5,467.2 185.7,469.6 186.3,464.4 186.9,464.6 187.9,522.5 188.6,519.2 189.3,468.8 190.7,467.1 191.5,490.6 192.4,465.8 192.7,460.4 193.5,465.6 194.1,465.5 195.2,522.5 195.8,519 196.3,461.5 196.5,467.6 197.1,466.2 197.4,464.9 197.7,466 198.2,486.9 199,463.2 201.3,521.5 201.9,517.9 202.6,463.5 203.5,463.3 204.3,496.7 205,458.4 205.2,464 205.7,464.4 206.3,464.1 207.4,532.7 208.1,528.4 208.7,456.9 209.6,461.6 210.5,498.8 211.2,462.3 211.3,460.3 211.9,463.1 212.5,462.9 213.6,508.1 214.3,505.2 214.9,459 216.3,460.6 217.2,478.8 218,455.2 218.3,465.4 219,462 219.6,462 220.7,522.5 221.4,518.8 222.1,462.8 223.5,461.5 224.3,492.8 225.2,458.2 225.5,464.7 226.2,461.1 226.8,461.3 227.9,528.7 228.6,524.9 229.3,467.2 229.8,470.9 230.6,460.5 230.6,463.7 231.2,461 231.5,489 232.3,465.6 235,518.4 235.7,515.5 236.4,472 237.8,464.6 238.6,496.6 239.5,469.8 239.8,475.3 240.6,459.7 241.2,460.4 242.2,516.3 242.9,513.9 243.6,475.6 244.5,468.3 245.3,492.8 246.1,476.2 246.6,475.5 247.4,459.1 247.9,460 248.4,524.5 249,521.7 249.7,478.5 251.1,469.8 252,496.5 252.8,475.2 253.1,478.5 253.9,456.3 254.5,457.5 255.6,520.5 256.2,518 256.9,475.1 258.3,466.7 259.1,500.2 260,480.6 260.3,481.7 261,453.3 261.6,454.5 262.7,514.3 263.4,512.2 264,475.7 265.5,464 266.3,496.4 267.1,480.3 267.5,476.5 268.2,447.1 268.8,448.5 269.9,512.3 270.6,510 271.2,473.8 271.7,459.1 272.5,493 272.7,472.2 273.3,475.7 273.4,440.9 274,442.4 275.1,507.1 275.8,505 276.4,471.1 277,464.6 277.4,456.5 277.8,435.7 278.2,486.7 278.4,437.3 279,471.4 281.3,491.8 282,490.3 282.6,467.5 283.1,465 283.5,453.2 283.9,443.9 284.4,481.2 284.5,444.8 285.2,471.2 287.4,500 288.1,497.7 288.8,460.2 289.6,448.1 289.7,457 290.4,438.8 290.5,484.6 291,439.8 291.3,460.7 293.5,496.8 294.2,494.5 294.9,455.3 296.3,444.1 296.3,455.9 297.1,432.6 297.1,479.5 297.6,433.8 298,456 300.7,493.8 301.4,491.5 302.1,457.2 302.6,458.1 303,447.6 303.3,432.6 303.8,468.8 303.9,433.8 304.6,456.7 306.9,489.7 307.5,487.7 308.2,456.9 309.1,439.4 309.2,458.4 309.9,474 310,425.5 310.5,427.1 310.8,455.2 313,489.7 313.6,487.8 314.3,461.8 315.7,445.1 315.9,459.8 316.6,469.4 316.7,423.4 317.2,425.3 317.4,457.2 320.2,501 320.9,498.6 321.5,460.8 322.1,463.5 322.9,436.7 322.9,450.4 323.5,438.3 323.7,481.4 324.6,463.6 327.3,501 328,499 328.6,466.2 330.6,461.7 331.4,482 332.2,463.3 333.1,476.4 333.8,454.1 334.4,455.2 335.5,530.7 336.2,527.3 336.8,477.7 336.9,473.9 337.5,455.2 337.7,466.2 338.1,456.3 338.6,499.5 339.4,473.5 341.6,523.5 342.3,520.9 343,478.4 344.4,469.7 345.2,496.8 346.1,482.1 346.4,482.3 347.2,454.3 347.8,455.7 348.8,524.5 349.5,522 350.2,483.5 351.6,471.5 352.4,496.3 353.2,482.9 353.5,480.9 354.3,450.4 354.9,452 356,518.4 356.6,516.2 357.3,480.5 358.7,465.4 359.6,500.5 360.4,481.6 360.7,479.4 361.5,448.5 362.1,450.1 363.2,507.1 363.8,505.5 364.5,480.6 365.9,461.6 366.7,493.6 367.6,480.7 367.9,473.7 368.6,439.2 369.2,441 370.3,505 371,503.2 371.6,474.5 371.6,467.1 372.4,429.5 372.6,451.4 373,431.5 373.4,490.4 374.2,477.4 376.5,493.8 377.2,492.3 377.8,470.6 378.8,463.6 379.2,452.1 379.5,432.6 380.1,480.2 380.1,434.1 380.9,469.4 383.6,487.6 384.3,486.1 385,461.8 386.9,435.3 387.7,476.4 388.6,464.7 389.4,458.1 390.2,402.7 390.7,405.4 391.8,485.6 392.5,483.8 393.2,453.5 394.6,425.7 395.4,473 396.2,458.8 396.5,453.5 397.3,409.4 397.9,411.6 399,479.4 399.6,477.9 400.3,456.8 401.7,439.7 402.6,462.7 403.4,456.7 403.7,452.7 404.5,414.4 405.1,416.3 406.2,478.4 406.8,476.9 407.5,452.5 408.9,431.4 409.7,467.7 410.6,453.1 411.5,455 412.3,414.2 412.9,416.3 413.3,482.5 414,481 414.6,456.2 416,440.2 416.9,469.2 417.7,455.1 418.7,462.9 418.7,468.3 419.5,425.5 419.5,425.5 420.1,427.4 420.1,427.5 420.5,481.5 421.2,480.4 421.2,452 421.8,462.5 422,469.3 422.9,461.9 423.6,489.7 424.3,488.3 424.9,464.6 425.9,472.7 426.3,456.3 426.6,436.7 427.2,474.3 427.2,438.6 428,468.6 430.7,501 431.4,499.3 432.1,469.8 433.1,478.2 433.5,458.5 433.8,439.8 434.3,485.7 434.4,441.8 435.2,474.6 437.9,513.3 438.6,511.2 439.3,480.6 439.8,488.3 440.5,438.8 440.6,463 441.1,441 441.5,493.4 442.3,479.5 445,495.8 445.7,495.1 446.4,483 447,487 447.7,438.8 447.8,463.7 448.3,441.1 448.6,489 449.5,484.9 452.3,518.4 452.9,516.3 452.9,469.6 453.5,479.4 453.6,487.1 453.8,496 454.3,443.9 454.6,482.1 454.8,445.8 455.3,581.9 455.9,576 456.5,470.7 456.6,483 456.9,484.9 457.3,517.6 457.7,448.3 458.2,483.5 458.3,449.9 459.4,547.1 460,543.1 460.7,480.5 460.7,475.1 461.5,453.2 461.6,466.2 462.1,454.3 462.5,516.2 463.3,481.7 465.6,547.1 466.2,542.8 466.8,469.9 466.9,474.5 467.6,455.2 467.8,465.4 468.2,455.9 468.6,508.2 469.5,478.9 471.7,522.5 472.4,519.3 472.9,459 473,469.9 473.7,441.9 473.9,457.1 474.3,442.9 474.8,492.9 475.6,467.3 477.8,518.4 478.5,515.1 479.2,463.6 480.6,451.1 481.4,489.9" fill="none" stroke="#f3a5a8" stroke-width="1.9" stroke-linejoin="round"/>
<path d="M63,462.5 63.3,410.7 63.6,415.4 63.8,470.7 64.1,480.5 64.5,410.7 64.8,479.9 65.1,413.7 65.4,471.7 65.8,446.1 66.6,474.2 67.5,470.5 69.2,484.8 69.9,484 70.5,469.2 72,452.1 72.8,475.8 73.6,472.8 74,475.3 74.7,409.7 75.3,412.9 76.4,525.6 77.1,522.5 77.7,472 79.1,458.1 79.8,477.3 80,496.5 80.5,441.5 80.8,473 81.1,443.1 83.5,509.3 84.2,507.2 84.9,476.7 85.9,478.3 86.3,457.8 86.6,436.3 87.1,489.7 87.2,438.2 88,474.2 90.7,499 91.4,497.5 92.1,474.8 93,474.3 93.5,459.4 93.8,429.2 94.3,482.8 94.3,431.4 95.1,475.9 97.9,501 98.5,499.4 99.2,474.8 100.1,462.4 100.2,472.6 101,481.4 101,436.3 101.5,438.1 101.8,473.4 104.1,502 104.7,500.2 105.4,470.5 106.8,458.8 107.3,469.4 107.6,484.1 108.1,441.5 108.5,474.9 108.7,442.8 111.2,492.8 111.9,491.4 112.5,470.9 114,460.9 114.1,466.5 114.8,474.7 114.9,436.3 115.5,437.8 115.6,471.6 118.4,494.9 119.1,493.2 119.7,466.7 120.7,466 121.1,453.7 121.4,427.1 122,475.8 122,429 122.8,468.8 125.5,501 126.2,498.9 126.8,467.4 126.9,467.5 127.5,428.1 127.7,453.9 128.1,430 128.6,476.1 129.4,464.7 131.6,503.1 132.3,500.8 133,462.5 134,465.4 134.4,450 134.7,427.1 135.2,480.2 135.3,429.1 136.1,469.3 138.8,490.8 139.5,489.3 140.2,468.3 141.2,472.3 141.6,455.1 141.9,433.2 142.4,474.4 142.5,435 143.2,465.9 146,499 146.6,497.1 147.3,468.6 148.3,473.2 148.7,458.5 149.1,445.5 149.6,481.3 149.6,446.8 150.4,466 153.2,509.3 153.8,506.9 154.5,469.1 155.5,474.7 155.9,460.3 156.3,446.6 156.7,487.3 156.9,447.9 157.6,471.3 160.3,511.3 161,509 161.6,469.8 162.6,472.9 163.1,465.1 163.4,445.5 163.9,484 164,447 164.7,467.7 167.5,503.1 168.2,501.4 168.8,472.5 169.8,474.5 170.2,466.5 170.6,450.7 171.1,483.9 171.2,451.8 171.9,475.6 174.6,509.3 175.3,507.2 176,471.4 177,473.1 177.4,466.1 177.7,452.7 178.2,487.6 178.3,453.7 179.1,473.9 181.8,507.2 182.5,505.1 183.2,471.7 184,466.8 184.2,470.5 184.9,482.5 184.9,450.7 185.5,451.7 185.7,473.3 187.9,503.1 188.6,501.2 189.3,470.8 190.3,471.1 190.7,466.9 191,460.9 191.5,483.3 191.6,461.3 192.4,469.1 195.2,503.1 195.8,501 196.4,467 196.5,470.9 197.2,451.7 197.4,462.1 197.8,452.5 198.2,481.7 199,466.3 201.3,501 201.9,499 202.6,468.3 203.5,461.6 203.6,467 204.3,480.5 204.4,454.8 205,455.3 205.2,465.4 207.4,507.2 208.1,504.6 208.7,467.5 209.6,458.7 209.7,464.9 210.5,483.1 210.5,450.7 211.1,451.3 211.3,467.3 213.6,490.8 214.3,489.2 214.9,464.2 215.9,462.1 216.3,458.9 216.6,447.6 217.2,472.8 217.2,448.5 218,464.3 220.7,501 221.4,498.9 222.1,466.1 223.1,467.6 223.5,460.9 223.8,451.7 224.3,476 224.4,452.5 225.2,468.9 227.9,511.3 228.6,508.6 229.3,468 230.6,462.3 231.5,479.2 232.3,468.2 232.6,471.3 233.4,450.1 234,451.1 235,501 235.7,499.2 236.4,471.8 237.8,462.4 238.6,482.8 239.5,469.9 239.8,474.3 240.6,449.7 241.2,450.9 242.2,501 242.9,499.4 243.5,479.1 243.6,473.3 244.3,447.6 244.5,464.6 244.8,449 245.3,482.8 246.1,472.5 248.4,511.3 249,509.1 249.7,472 250.7,475.2 251.1,466.7 251.5,445.5 252,486.2 252.1,447.1 252.8,477.7 255.6,503.1 256.2,501.6 256.9,477.1 257.4,479 258.2,444.5 258.3,467.7 258.8,446.1 259.1,484.4 260,478.4 262.7,496.9 263.4,495.7 264,476.8 265.5,464.7 266.3,483.6 267.1,477.6 267.5,474 268.2,443.2 268.8,444.8 269.9,494.9 270.2,473.3 270.6,493.7 270.9,446.6 271.2,470.9 271.5,447.9 271.7,465.5 272.5,481.1 273.3,474.4 275.1,505.1 275.8,503.2 276.4,474.9 277,468.5 277.4,458.7 277.8,436.3 278.2,485.2 278.4,438 279,472.7 281.3,490.8 282,489.5 282.6,470.6 283.1,465.6 283.5,462.6 283.9,441.5 284.4,474.6 284.5,442.7 285.2,467.9 287.4,499 288.1,497 288.8,464.3 289.6,458.4 289.7,459.5 290.4,438.4 290.5,475.4 291,439.6 291.3,465.1 293.5,494.9 294.2,493 294.9,462.1 296.3,450.8 296.3,463.2 297.1,433.2 297.1,476.5 297.6,434.6 298,461.9 300.7,486.7 301.4,485.2 302.1,462 302.6,457.5 303,449.4 303.3,430.2 303.8,470.8 303.9,431.7 304.6,459.9 306.9,480.6 307.5,479.4 308.2,460.8 309.1,447.2 309.2,459.4 309.9,468.3 310,425 310.5,426.9 310.8,456.6 313,482.6 313.6,481.3 314.3,464 315.7,447.4 315.9,468.4 316.6,470.4 316.7,427.1 317.2,429 317.4,461.7 320.2,500 320.9,497.8 321.5,465.4 322.1,470.1 322.9,439.4 322.9,457.4 323.5,440.8 323.7,475.2 324.6,461.1 327.3,499 328,497.1 328.6,468.9 330.6,463.8 331.4,479 332.2,469.2 333.1,475.4 333.8,456.3 334.4,457.1 335.5,515.4 336.2,512.9 336.8,478.7 336.9,472.9 337.5,457.9 337.7,467.8 338.1,458.8 338.6,488.2 339.4,472.1 341.6,509.3 342.3,507.3 343,479.2 344,480.8 344.4,469.1 344.7,454.8 345.2,487.9 345.3,456 346.1,478.2 348.8,513.3 349.5,511.3 350.2,483 351.1,482.4 351.6,470.9 351.9,450.7 352.4,489.2 352.4,452.1 353.2,477.4 356,501 356.6,499.8 357.3,478.4 358.3,480.2 358.7,463.8 359.1,442.5 359.6,489.4 359.7,444.3 360.4,485.4 363.2,499 363.8,497.8 364.5,479.9 365.5,476.3 365.9,467.7 366.3,445.5 366.7,485.6 366.9,447 367.6,479.3 370.3,496.9 371,495.6 371.6,475.9 371.6,472.9 372.4,430.2 372.6,462.5 373,432.3 373.4,481.9 374.2,471.2 376.5,484.6 377.2,483.9 377.8,473.8 378.8,468.8 379.2,458.8 379.5,427.1 380.1,475.5 380.1,429.1 380.9,471 383.6,480.6 384.3,479.7 385,468 386.9,450.2 387.7,471.4 388.6,465.7 389.4,459.3 390.2,411.1 390.7,413.6 391.8,470.3 392.5,469.8 393.2,460.6 394.6,443.4 395.4,464.4 396.2,460.4 396.5,457.9 397.3,409.9 397.9,412.3 399,468.2 399.6,467.6 400.3,454.4 401.7,445.5 402.6,461.3 403.4,461.3 403.7,459.8 404.5,415.2 405.1,417.3 406.2,468.2 406.8,467.6 407.5,454.4 408.9,439.7 409.7,462.1 410.6,462 411.5,460.5 412.3,415.8 412.9,418 413.3,470.3 414,469.6 414.6,459.2 416,450 416.9,462 417.7,461.4 418.7,462 418.7,462 419.5,426.1 419.5,426.1 420.1,428 420.1,428.1 420.5,477.5 421.2,476.6 421.2,448.1 421.8,461.8 422,469.6 422.9,463.9 423.6,482.6 424.3,481.6 424.9,462.1 425.9,469.3 426.3,451.7 426.6,432.2 427.2,472.9 427.2,434.2 428,465.1 430.7,490.8 431.4,489.6 432.1,472.1 433.1,477.4 433.5,457.3 433.8,435.3 434.3,479.3 434.4,437.4 435.2,473.6 437.9,501 438.6,499.6 439.3,477.6 439.8,478.7 440.5,433.2 440.6,466 441.1,435.7 441.5,483.6 442.3,477.9 445,486.7 445.7,486.4 446.4,478.6 447,487.6 447.7,436.3 447.8,467 448.3,438.6 448.6,483.1 449.5,478.9 452.3,496.9 452.9,496.1 452.9,466.9 453.5,485.1 453.6,482.7 453.8,487.4 454.3,433.2 454.6,488 454.8,435.7 455.3,554.3 455.9,550 456.5,472.4 456.6,480.4 456.9,482.2 457.3,503.8 457.7,449.9 458.2,485 458.3,451.4 459.4,542 460,538.4 460.7,482.6 460.7,478.5 461.5,468.1 461.6,477.1 462.1,468.6 462.5,501.3 463.3,480.5 465.6,546.2 466.2,542.1 466.8,472.2 466.9,479.3 467.6,469.1 467.8,474.6 468.2,469.3 468.6,496.1 469.5,475.1 471.7,521.5 472.4,518.6 472.9,468.8 473,471.6 473.7,447.6 473.9,466.4 474.3,448.6 474.8,484.8 475.6,475.7 477.8,515.4 478.5,512.5 479.2,465.9 480.6,459.1 481.4,481.3" fill="none" stroke="#7e7e7e" stroke-width="2.3" stroke-linejoin="round"/>
<path d="M63,473.9 63.8,474.3 64.7,474.7 65.5,475.1 66.4,475.5 67.2,475.9 68,476.2 68.9,476.6 69.7,476.9 70.5,477.3 71.4,477.6 72.2,477.8 73.1,478.1 73.9,478.4 74.7,478.6 75.6,478.8 76.4,479 77.2,479.2 78.1,479.3 78.9,479.4 79.8,479.5 80.6,479.6 81.4,479.6 82.3,479.6 83.1,479.6 84,479.5 84.8,479.5 85.6,479.4 86.5,479.3 87.3,479.2 88.1,479 89,478.8 89.8,478.6 90.7,478.4 91.5,478.2 92.3,477.9 93.2,477.7 94,477.4 94.8,477.1 95.7,476.7 96.5,476.4 97.4,476.1 98.2,475.7 99,475.3 99.9,475 100.7,474.6 101.5,474.2 102.4,473.8 103.2,473.4 104.1,473 104.9,472.6 105.7,472.2 106.6,471.9 107.4,471.5 108.3,471.1 109.1,470.7 109.9,470.4 110.8,470 111.6,469.7 112.4,469.4 113.3,469.1 114.1,468.8 115,468.5 115.8,468.2 116.6,468 117.5,467.8 118.3,467.6 119.1,467.4 120,467.2 120.8,467.1 121.7,467 122.5,466.9 123.3,466.8 124.2,466.8 125,466.8 125.8,466.8 126.7,466.8 127.5,466.9 128.4,466.9 129.2,467.1 130,467.2 130.9,467.4 131.7,467.5 132.6,467.8 133.4,468 134.2,468.3 135.1,468.5 135.9,468.8 136.7,469.2 137.6,469.5 138.4,469.9 139.3,470.2 140.1,470.6 140.9,471 141.8,471.4 142.6,471.8 143.4,472.3 144.3,472.7 145.1,473.1 146,473.6 146.8,474 147.6,474.5 148.5,474.9 149.3,475.3 150.2,475.8 151,476.2 151.8,476.6 152.7,477 153.5,477.4 154.3,477.7 155.2,478.1 156,478.4 156.9,478.8 157.7,479.1 158.5,479.4 159.4,479.6 160.2,479.9 161,480.1 161.9,480.3 162.7,480.5 163.6,480.6 164.4,480.7 165.2,480.8 166.1,480.9 166.9,480.9 167.8,480.9 168.6,480.9 169.4,480.9 170.3,480.8 171.1,480.7 171.9,480.5 172.8,480.4 173.6,480.2 174.5,479.9 175.3,479.7 176.1,479.4 177,479.1 177.8,478.8 178.6,478.4 179.5,478.1 180.3,477.7 181.2,477.3 182,476.8 182.8,476.4 183.7,475.9 184.5,475.5 185.3,475 186.2,474.5 187,474 187.9,473.5 188.7,473 189.5,472.5 190.4,472 191.2,471.5 192.1,471 192.9,470.5 193.7,470 194.6,469.5 195.4,469.1 196.2,468.6 197.1,468.2 197.9,467.8 198.8,467.4 199.6,467 200.4,466.6 201.3,466.3 202.1,466 202.9,465.7 203.8,465.4 204.6,465.2 205.5,465 206.3,464.8 207.1,464.7 208,464.6 208.8,464.5 209.6,464.4 210.5,464.4 211.3,464.4 212.2,464.4 213,464.5 213.8,464.6 214.7,464.7 215.5,464.9 216.4,465.1 217.2,465.3 218,465.6 218.9,465.9 219.7,466.2 220.5,466.5 221.4,466.9 222.2,467.3 223.1,467.7 223.9,468.2 224.7,468.6 225.6,469.1 226.4,469.6 227.2,470.2 228.1,470.7 228.9,471.2 229.8,471.8 230.6,472.4 231.4,472.9 232.3,473.5 233.1,474.1 234,474.7 234.8,475.3 235.6,475.9 236.5,476.4 237.3,477 238.1,477.6 239,478.1 239.8,478.7 240.7,479.2 241.5,479.7 242.3,480.2 243.2,480.7 244,481.1 244.8,481.5 245.7,482 246.5,482.3 247.4,482.7 248.2,483 249,483.3 249.9,483.6 250.7,483.8 251.6,484 252.4,484.2 253.2,484.4 254.1,484.5 254.9,484.6 255.7,484.6 256.6,484.6 257.4,484.6 258.3,484.5 259.1,484.4 259.9,484.3 260.8,484.1 261.6,483.9 262.4,483.7 263.3,483.4 264.1,483.1 265,482.7 265.8,482.3 266.6,481.9 267.5,481.5 268.3,481 269.1,480.6 270,480 270.8,479.5 271.7,478.9 272.5,478.4 273.3,477.8 274.2,477.2 275,476.5 275.9,475.9 276.7,475.2 277.5,474.6 278.4,473.9 279.2,473.3 280,472.6 280.9,471.9 281.7,471.3 282.6,470.6 283.4,469.9 284.2,469.3 285.1,468.6 285.9,468 286.7,467.4 287.6,466.8 288.4,466.2 289.3,465.6 290.1,465.1 290.9,464.6 291.8,464.1 292.6,463.6 293.5,463.2 294.3,462.8 295.1,462.4 296,462 296.8,461.7 297.6,461.4 298.5,461.2 299.3,461 300.2,460.8 301,460.7 301.8,460.5 302.7,460.5 303.5,460.4 304.3,460.4 305.2,460.5 306,460.6 306.9,460.7 307.7,460.8 308.5,461 309.4,461.3 310.2,461.5 311,461.8 311.9,462.2 312.7,462.5 313.6,462.9 314.4,463.4 315.2,463.8 316.1,464.3 316.9,464.8 317.8,465.4 318.6,465.9 319.4,466.5 320.3,467.1 321.1,467.8 321.9,468.4 322.8,469.1 323.6,469.7 324.5,470.4 325.3,471.1 326.1,471.8 327,472.5 327.8,473.3 328.6,474 329.5,474.7 330.3,475.4 331.2,476.1 332,476.8 332.8,477.5 333.7,478.2 334.5,478.9 335.4,479.6 336.2,480.2 337,480.8 337.9,481.4 338.7,482 339.5,482.6 340.4,483.1 341.2,483.6 342.1,484.1 342.9,484.6 343.7,485 344.6,485.4 345.4,485.8 346.2,486.1 347.1,486.4 347.9,486.7 348.8,486.9 349.6,487.1 350.4,487.2 351.3,487.3 352.1,487.4 352.9,487.4 353.8,487.4 354.6,487.4 355.5,487.3 356.3,487.2 357.1,487 358,486.8 358.8,486.6 359.7,486.3 360.5,485.9 361.3,485.6 362.2,485.2 363,484.7 363.8,484.2 364.7,483.7 365.5,483.2 366.4,482.6 367.2,482 368,481.4 368.9,480.7 369.7,480.1 370.5,479.4 371.4,478.6 372.2,477.9 373.1,477.2 373.9,476.4 374.7,475.6 375.6,474.9 376.4,474.1 377.2,473.3 378.1,472.5 378.9,471.7 379.8,470.9 380.6,470.1 381.4,469.4 382.3,468.6 383.1,467.8 384,467.1 384.8,466.4 385.6,465.7 386.5,465 387.3,464.3 388.1,463.7 389,463.1 389.8,462.5 390.7,462 391.5,461.5 392.3,461 393.2,460.5 394,460.1 394.8,459.7 395.7,459.4 396.5,459.1 397.4,458.8 398.2,458.6 399,458.4 399.9,458.3 400.7,458.2 401.6,458.2 402.4,458.2 403.2,458.2 404.1,458.3 404.9,458.4 405.7,458.6 406.6,458.8 407.4,459.1 408.3,459.4 409.1,459.8 409.9,460.2 410.8,460.6 411.6,461.1 412.4,461.6 413.3,462.2 414.1,462.8 415,463.4 415.8,464 416.6,464.7 417.5,465.4 418.3,466.2 419.1,467 420,467.7 420.8,468.5 421.7,469.4 422.5,470.2 423.3,471 424.2,471.9 425,472.7 425.9,473.6 426.7,474.4 427.5,475.3 428.4,476.1 429.2,477 430,477.8 430.9,478.6 431.7,479.4 432.6,480.2 433.4,481 434.2,481.7 435.1,482.4 435.9,483.1 436.7,483.8 437.6,484.4 438.4,485 439.3,485.6 440.1,486.1 440.9,486.6 441.8,487 442.6,487.4 443.5,487.8 444.3,488.1 445.1,488.4 446,488.6 446.8,488.8 447.6,489 448.5,489 449.3,489.1 450.2,489.1 451,489 451.8,488.9 452.7,488.8 453.5,488.6 454.3,488.3 455.2,488 456,487.7 456.9,487.3 457.7,486.8 458.5,486.3 459.4,485.8 460.2,485.2 461,484.6 461.9,484 462.7,483.3 463.6,482.6 464.4,481.9 465.2,481.1 466.1,480.3 466.9,479.5 467.8,478.6 468.6,477.8 469.4,476.9 470.3,476 471.1,475.1 471.9,474.2 472.8,473.2 473.6,472.3 474.5,471.4 475.3,470.5 476.1,469.5 477,468.6 477.8,467.7 478.6,466.8 479.5,466 480.3,465.1 481.2,464.3 482,463.5" fill="none" stroke="#d0282e" stroke-width="2.3" stroke-linejoin="round"/>
<path d="M63,473.2 63.8,473.5 64.7,473.8 65.5,474 66.4,474.3 67.2,474.6 68,474.8 68.9,475.1 69.7,475.4 70.5,475.6 71.4,475.9 72.2,476.1 73.1,476.3 73.9,476.5 74.7,476.8 75.6,477 76.4,477.2 77.2,477.3 78.1,477.5 78.9,477.7 79.8,477.8 80.6,477.9 81.4,478 82.3,478.1 83.1,478.2 84,478.3 84.8,478.3 85.6,478.3 86.5,478.4 87.3,478.3 88.1,478.3 89,478.3 89.8,478.2 90.7,478.2 91.5,478.1 92.3,477.9 93.2,477.8 94,477.7 94.8,477.5 95.7,477.3 96.5,477.2 97.4,477 98.2,476.7 99,476.5 99.9,476.3 100.7,476 101.5,475.8 102.4,475.5 103.2,475.2 104.1,474.9 104.9,474.6 105.7,474.4 106.6,474.1 107.4,473.8 108.3,473.5 109.1,473.2 109.9,472.9 110.8,472.6 111.6,472.3 112.4,472 113.3,471.7 114.1,471.4 115,471.2 115.8,470.9 116.6,470.6 117.5,470.4 118.3,470.2 119.1,469.9 120,469.7 120.8,469.5 121.7,469.4 122.5,469.2 123.3,469.1 124.2,468.9 125,468.8 125.8,468.7 126.7,468.6 127.5,468.6 128.4,468.5 129.2,468.5 130,468.5 130.9,468.5 131.7,468.5 132.6,468.6 133.4,468.7 134.2,468.8 135.1,468.9 135.9,469 136.7,469.1 137.6,469.3 138.4,469.5 139.3,469.7 140.1,469.9 140.9,470.1 141.8,470.3 142.6,470.6 143.4,470.8 144.3,471.1 145.1,471.3 146,471.6 146.8,471.9 147.6,472.2 148.5,472.5 149.3,472.8 150.2,473.1 151,473.4 151.8,473.7 152.7,474 153.5,474.3 154.3,474.6 155.2,474.9 156,475.2 156.9,475.5 157.7,475.7 158.5,476 159.4,476.2 160.2,476.5 161,476.7 161.9,476.9 162.7,477.1 163.6,477.3 164.4,477.4 165.2,477.6 166.1,477.7 166.9,477.8 167.8,477.9 168.6,478 169.4,478 170.3,478.1 171.1,478.1 171.9,478.1 172.8,478 173.6,478 174.5,477.9 175.3,477.8 176.1,477.7 177,477.6 177.8,477.5 178.6,477.3 179.5,477.1 180.3,477 181.2,476.8 182,476.5 182.8,476.3 183.7,476.1 184.5,475.8 185.3,475.5 186.2,475.2 187,475 187.9,474.7 188.7,474.4 189.5,474.1 190.4,473.7 191.2,473.4 192.1,473.1 192.9,472.8 193.7,472.5 194.6,472.2 195.4,471.8 196.2,471.5 197.1,471.2 197.9,470.9 198.8,470.6 199.6,470.4 200.4,470.1 201.3,469.8 202.1,469.6 202.9,469.3 203.8,469.1 204.6,468.9 205.5,468.7 206.3,468.6 207.1,468.4 208,468.3 208.8,468.1 209.6,468 210.5,467.9 211.3,467.9 212.2,467.8 213,467.8 213.8,467.8 214.7,467.8 215.5,467.8 216.4,467.9 217.2,468 218,468.1 218.9,468.2 219.7,468.4 220.5,468.5 221.4,468.7 222.2,468.9 223.1,469.1 223.9,469.4 224.7,469.6 225.6,469.9 226.4,470.2 227.2,470.5 228.1,470.8 228.9,471.2 229.8,471.5 230.6,471.9 231.4,472.2 232.3,472.6 233.1,473 234,473.3 234.8,473.7 235.6,474.1 236.5,474.5 237.3,474.9 238.1,475.3 239,475.6 239.8,476 240.7,476.4 241.5,476.7 242.3,477.1 243.2,477.4 244,477.8 244.8,478.1 245.7,478.4 246.5,478.7 247.4,479 248.2,479.2 249,479.5 249.9,479.7 250.7,479.9 251.6,480.1 252.4,480.2 253.2,480.4 254.1,480.5 254.9,480.6 255.7,480.7 256.6,480.7 257.4,480.8 258.3,480.8 259.1,480.8 259.9,480.7 260.8,480.7 261.6,480.6 262.4,480.5 263.3,480.3 264.1,480.2 265,480 265.8,479.8 266.6,479.6 267.5,479.3 268.3,479 269.1,478.8 270,478.4 270.8,478.1 271.7,477.8 272.5,477.4 273.3,477 274.2,476.7 275,476.3 275.9,475.9 276.7,475.4 277.5,475 278.4,474.6 279.2,474.1 280,473.7 280.9,473.2 281.7,472.8 282.6,472.3 283.4,471.9 284.2,471.4 285.1,471 285.9,470.5 286.7,470.1 287.6,469.7 288.4,469.2 289.3,468.8 290.1,468.4 290.9,468.1 291.8,467.7 292.6,467.3 293.5,467 294.3,466.7 295.1,466.4 296,466.1 296.8,465.8 297.6,465.6 298.5,465.3 299.3,465.1 300.2,465 301,464.8 301.8,464.7 302.7,464.6 303.5,464.5 304.3,464.4 305.2,464.4 306,464.4 306.9,464.4 307.7,464.4 308.5,464.5 309.4,464.6 310.2,464.7 311,464.9 311.9,465 312.7,465.2 313.6,465.5 314.4,465.7 315.2,466 316.1,466.3 316.9,466.6 317.8,467 318.6,467.3 319.4,467.7 320.3,468.1 321.1,468.5 321.9,468.9 322.8,469.4 323.6,469.8 324.5,470.3 325.3,470.8 326.1,471.3 327,471.8 327.8,472.3 328.6,472.8 329.5,473.3 330.3,473.8 331.2,474.3 332,474.8 332.8,475.4 333.7,475.9 334.5,476.4 335.4,476.9 336.2,477.4 337,477.8 337.9,478.3 338.7,478.8 339.5,479.2 340.4,479.7 341.2,480.1 342.1,480.5 342.9,480.9 343.7,481.2 344.6,481.6 345.4,481.9 346.2,482.2 347.1,482.5 347.9,482.7 348.8,483 349.6,483.2 350.4,483.3 351.3,483.5 352.1,483.6 352.9,483.7 353.8,483.8 354.6,483.9 355.5,483.9 356.3,483.9 357.1,483.8 358,483.8 358.8,483.7 359.7,483.5 360.5,483.4 361.3,483.2 362.2,482.9 363,482.7 363.8,482.4 364.7,482.1 365.5,481.8 366.4,481.4 367.2,481 368,480.6 368.9,480.2 369.7,479.7 370.5,479.2 371.4,478.7 372.2,478.2 373.1,477.7 373.9,477.1 374.7,476.6 375.6,476 376.4,475.4 377.2,474.9 378.1,474.3 378.9,473.7 379.8,473.1 380.6,472.5 381.4,471.8 382.3,471.2 383.1,470.6 384,470.1 384.8,469.5 385.6,468.9 386.5,468.3 387.3,467.8 388.1,467.2 389,466.7 389.8,466.2 390.7,465.7 391.5,465.2 392.3,464.8 393.2,464.3 394,463.9 394.8,463.5 395.7,463.2 396.5,462.8 397.4,462.5 398.2,462.2 399,462 399.9,461.8 400.7,461.6 401.6,461.4 402.4,461.3 403.2,461.2 404.1,461.1 404.9,461.1 405.7,461.1 406.6,461.1 407.4,461.2 408.3,461.3 409.1,461.5 409.9,461.7 410.8,461.9 411.6,462.2 412.4,462.5 413.3,462.8 414.1,463.2 415,463.6 415.8,464 416.6,464.5 417.5,465 418.3,465.5 419.1,466.1 420,466.7 420.8,467.3 421.7,467.9 422.5,468.5 423.3,469.2 424.2,469.9 425,470.5 425.9,471.2 426.7,471.9 427.5,472.6 428.4,473.4 429.2,474.1 430,474.8 430.9,475.5 431.7,476.2 432.6,476.9 433.4,477.6 434.2,478.2 435.1,478.9 435.9,479.6 436.7,480.2 437.6,480.8 438.4,481.4 439.3,481.9 440.1,482.5 440.9,483 441.8,483.4 442.6,483.9 443.5,484.3 444.3,484.7 445.1,485 446,485.4 446.8,485.6 447.6,485.9 448.5,486.1 449.3,486.2 450.2,486.4 451,486.4 451.8,486.5 452.7,486.5 453.5,486.4 454.3,486.4 455.2,486.2 456,486.1 456.9,485.9 457.7,485.6 458.5,485.3 459.4,485 460.2,484.6 461,484.2 461.9,483.8 462.7,483.3 463.6,482.8 464.4,482.3 465.2,481.7 466.1,481.1 466.9,480.5 467.8,479.8 468.6,479.2 469.4,478.5 470.3,477.7 471.1,477 471.9,476.3 472.8,475.5 473.6,474.8 474.5,474 475.3,473.2 476.1,472.4 477,471.6 477.8,470.8 478.6,470.1 479.5,469.3 480.3,468.5 481.2,467.8 482,467" fill="none" stroke="#141414" stroke-width="2.0" stroke-linejoin="round"/>
<path d="M63.0,366.3 L63.0,616.1 L482.0,616.1" fill="none" stroke="#222222" stroke-width="1.5"/>
<line x1="58.0" y1="366.3" x2="63.0" y2="366.3" stroke="#222222" stroke-width="1.4"/>
<text x="53.3" y="371.7" text-anchor="end" class="tk">1.5</text>
<line x1="58.0" y1="402.0" x2="63.0" y2="402.0" stroke="#222222" stroke-width="1.4"/>
<text x="53.3" y="407.4" text-anchor="end" class="tk">1</text>
<line x1="58.0" y1="437.7" x2="63.0" y2="437.7" stroke="#222222" stroke-width="1.4"/>
<text x="53.3" y="443.1" text-anchor="end" class="tk">0.5</text>
<line x1="58.0" y1="473.4" x2="63.0" y2="473.4" stroke="#222222" stroke-width="1.4"/>
<text x="53.3" y="478.8" text-anchor="end" class="tk">0</text>
<line x1="58.0" y1="509.0" x2="63.0" y2="509.0" stroke="#222222" stroke-width="1.4"/>
<text x="53.3" y="514.4" text-anchor="end" class="tk">-0.5</text>
<line x1="58.0" y1="544.7" x2="63.0" y2="544.7" stroke="#222222" stroke-width="1.4"/>
<text x="53.3" y="550.1" text-anchor="end" class="tk">-1</text>
<line x1="58.0" y1="580.4" x2="63.0" y2="580.4" stroke="#222222" stroke-width="1.4"/>
<text x="53.3" y="585.8" text-anchor="end" class="tk">-1.5</text>
<line x1="58.0" y1="616.1" x2="63.0" y2="616.1" stroke="#222222" stroke-width="1.4"/>
<text x="53.3" y="621.5" text-anchor="end" class="tk">-2</text>
<line x1="63.0" y1="616.1" x2="63.0" y2="621.1" stroke="#222222" stroke-width="1.4"/>
<text x="63.0" y="639.5" text-anchor="middle" class="tk">100</text>
<line x1="146.8" y1="616.1" x2="146.8" y2="621.1" stroke="#222222" stroke-width="1.4"/>
<text x="146.8" y="639.5" text-anchor="middle" class="tk">110</text>
<line x1="230.6" y1="616.1" x2="230.6" y2="621.1" stroke="#222222" stroke-width="1.4"/>
<text x="230.6" y="639.5" text-anchor="middle" class="tk">120</text>
<line x1="314.4" y1="616.1" x2="314.4" y2="621.1" stroke="#222222" stroke-width="1.4"/>
<text x="314.4" y="639.5" text-anchor="middle" class="tk">130</text>
<line x1="398.2" y1="616.1" x2="398.2" y2="621.1" stroke="#222222" stroke-width="1.4"/>
<text x="398.2" y="639.5" text-anchor="middle" class="tk">140</text>
<line x1="482.0" y1="616.1" x2="482.0" y2="621.1" stroke="#222222" stroke-width="1.4"/>
<text x="482.0" y="639.5" text-anchor="middle" class="tk">150</text>
<text x="247.52" y="658.00" textLength="50.50" lengthAdjust="spacingAndGlyphs" style="font-family:'Liberation Sans', sans-serif;font-size:14.2px;">Time (s)</text>
<text transform="rotate(-90)" x="-588.75" y="22.30" textLength="195.73" lengthAdjust="spacingAndGlyphs" style="font-family:'Liberation Sans',sans-serif;font-size:14.3px;">Change in concentration (<tspan style="font-family:'Liberation Serif',serif;font-style:italic">μ</tspan>M)</text>
<text x="169.47" y="361.20" textLength="205.39" lengthAdjust="spacingAndGlyphs" style="font-family:'Liberation Sans', sans-serif;font-size:14.2px;font-weight:bold;">Raw vs Filtered HbO and HbT</text>
<text x="-1.43" y="370.30" textLength="25.93" lengthAdjust="spacingAndGlyphs" style="font-family:'Liberation Sans', sans-serif;font-size:18px;font-weight:bold;">(C)</text>
<rect x="97.4" y="536.6" width="141.0" height="75.0" fill="#fff"/>
<line x1="97.4" y1="536.6" x2="238.4" y2="536.6" stroke="#e2e2e2" stroke-width="1"/>
<line x1="97.4" y1="611.6" x2="238.4" y2="611.6" stroke="#b4b4b4" stroke-width="1"/>
<line x1="97.4" y1="536.6" x2="97.4" y2="612.1" stroke="#5a5a5a" stroke-width="1"/>
<line x1="238.4" y1="536.6" x2="238.4" y2="612.1" stroke="#8e8e8e" stroke-width="1"/>
<line x1="101.1" y1="547.6" x2="127.6" y2="547.6" stroke="#f3a5a8" stroke-width="1.6"/>
<text x="131.15" y="552.90" textLength="28.86" lengthAdjust="spacingAndGlyphs" style="font-family:'Liberation Sans', sans-serif;font-size:14.3px;">Raw</text>
<text x="165.10" y="552.90" textLength="11.28" lengthAdjust="spacingAndGlyphs" style="font-family:'Liberation Serif', serif;font-size:14.3px;">Δ</text>
<text x="176.27" y="552.90" textLength="38.59" lengthAdjust="spacingAndGlyphs" style="font-family:'Liberation Sans', sans-serif;font-size:14.3px;">[HbO]</text>
<line x1="101.1" y1="565.5" x2="127.6" y2="565.5" stroke="#7e7e7e" stroke-width="1.6"/>
<text x="131.15" y="570.80" textLength="28.86" lengthAdjust="spacingAndGlyphs" style="font-family:'Liberation Sans', sans-serif;font-size:14.3px;">Raw</text>
<text x="165.10" y="570.80" textLength="11.28" lengthAdjust="spacingAndGlyphs" style="font-family:'Liberation Serif', serif;font-size:14.3px;">Δ</text>
<text x="176.24" y="570.80" textLength="37.04" lengthAdjust="spacingAndGlyphs" style="font-family:'Liberation Sans', sans-serif;font-size:14.3px;">[HbT]</text>
<line x1="101.1" y1="583.4" x2="127.6" y2="583.4" stroke="#b3181e" stroke-width="1.6"/>
<text x="130.90" y="588.70" textLength="50.17" lengthAdjust="spacingAndGlyphs" style="font-family:'Liberation Sans', sans-serif;font-size:14.3px;">Filtered</text>
<text x="184.47" y="588.70" textLength="11.73" lengthAdjust="spacingAndGlyphs" style="font-family:'Liberation Serif', serif;font-size:14.3px;">Δ</text>
<text x="196.77" y="588.70" textLength="38.28" lengthAdjust="spacingAndGlyphs" style="font-family:'Liberation Sans', sans-serif;font-size:14.3px;">[HbO]</text>
<line x1="101.1" y1="601.3" x2="127.6" y2="601.3" stroke="#141414" stroke-width="1.6"/>
<text x="130.90" y="606.60" textLength="50.17" lengthAdjust="spacingAndGlyphs" style="font-family:'Liberation Sans', sans-serif;font-size:14.3px;">Filtered</text>
<text x="184.47" y="606.60" textLength="11.73" lengthAdjust="spacingAndGlyphs" style="font-family:'Liberation Serif', serif;font-size:14.3px;">Δ</text>
<text x="196.80" y="606.60" textLength="34.92" lengthAdjust="spacingAndGlyphs" style="font-family:'Liberation Sans', sans-serif;font-size:14.3px;">[HbT]</text>
<path d="M614.6,494.1 615.4,496.5 616.3,498.9 617.1,501.2 617.9,503.5 618.8,505.7 619.6,507.9 620.5,510 621.3,512 622.1,513.9 623,515.7 623.8,517.4 624.6,518.9 625.5,520.4 626.3,521.8 627.2,523 628,524.1 628.8,525 629.7,525.8 630.5,526.4 631.3,527 632.2,527.3 633,527.5 633.9,527.6 634.7,527.5 635.5,527.3 636.4,526.9 637.2,526.4 638,525.8 638.9,525 639.7,524.1 640.6,523.1 641.4,521.9 642.2,520.7 643.1,519.3 643.9,517.8 644.7,516.2 645.6,514.5 646.4,512.7 647.3,510.9 648.1,508.9 648.9,506.9 649.8,504.8 650.6,502.7 651.4,500.5 652.3,498.3 653.1,496 653.9,493.8 654.8,491.5 655.6,489.2 656.5,486.9 657.3,484.6 658.1,482.4 659,480.1 659.8,478 660.6,475.8 661.5,473.7 662.3,471.7 663.2,469.7 664,467.9 664.8,466.1 665.7,464.3 666.5,462.7 667.3,461.2 668.2,459.8 669,458.5 669.9,457.3 670.7,456.3 671.5,455.4 672.4,454.6 673.2,453.9 674,453.4 674.9,453 675.7,452.7 676.6,452.6 677.4,452.7 678.2,452.9 679.1,453.2 679.9,453.7 680.7,454.4 681.6,455.2 682.4,456.1 683.3,457.3 684.1,458.5 684.9,459.9 685.8,461.4 686.6,463.1 687.4,464.8 688.3,466.7 689.1,468.7 689.9,470.8 690.8,472.9 691.6,475.2 692.5,477.5 693.3,479.9 694.1,482.3 695,484.8 695.8,487.3 696.6,489.9 697.5,492.4 698.3,495 699.2,497.5 700,500.1 700.8,502.6 701.7,505.1 702.5,507.6 703.3,510 704.2,512.3 705,514.6 705.9,516.7 706.7,518.8 707.5,520.8 708.4,522.7 709.2,524.5 710,526.2 710.9,527.7 711.7,529.1 712.6,530.4 713.4,531.6 714.2,532.6 715.1,533.4 715.9,534.1 716.7,534.6 717.6,535 718.4,535.2 719.2,535.3 720.1,535.2 720.9,534.9 721.8,534.4 722.6,533.8 723.4,533 724.3,532 725.1,530.9 725.9,529.5 726.8,528.1 727.6,526.4 728.5,524.7 729.3,522.8 730.1,520.7 731,518.6 731.8,516.3 732.6,513.9 733.5,511.4 734.3,508.8 735.2,506.2 736,503.4 736.8,500.6 737.7,497.8 738.5,494.9 739.3,492 740.2,489 741,486.1 741.9,483.2 742.7,480.2 743.5,477.3 744.4,474.5 745.2,471.7 746,468.9 746.9,466.2 747.7,463.6 748.6,461.1 749.4,458.6 750.2,456.3 751.1,454.1 751.9,452 752.7,450 753.6,448.2 754.4,446.5 755.2,445 756.1,443.6 756.9,442.4 757.8,441.4 758.6,440.5 759.4,439.8 760.3,439.2 761.1,438.9 761.9,438.7 762.8,438.7 763.6,438.9 764.5,439.3 765.3,439.9 766.1,440.7 767,441.6 767.8,442.8 768.6,444.1 769.5,445.7 770.3,447.4 771.2,449.2 772,451.3 772.8,453.5 773.7,455.8 774.5,458.3 775.3,460.9 776.2,463.6 777,466.4 777.9,469.4 778.7,472.4 779.5,475.6 780.4,478.8 781.2,482 782,485.4 782.9,488.7 783.7,492.1 784.6,495.5 785.4,498.9 786.2,502.3 787.1,505.7 787.9,509.1 788.7,512.4 789.6,515.7 790.4,518.9 791.2,522.1 792.1,525.2 792.9,528.1 793.8,531 794.6,533.8 795.4,536.4 796.3,538.9 797.1,541.3 797.9,543.6 798.8,545.6 799.6,547.5 800.5,549.3 801.3,550.9 802.1,552.3 803,553.5 803.8,554.5 804.6,555.4 805.5,556 806.3,556.5 807.2,556.7 808,556.8 808.8,556.6 809.7,556.3 810.5,555.7 811.3,554.9 812.2,553.9 813,552.7 813.9,551.2 814.7,549.6 815.5,547.8 816.4,545.8 817.2,543.6 818,541.2 818.9,538.7 819.7,536 820.6,533.1 821.4,530.2 822.2,527 823.1,523.8 823.9,520.4 824.7,516.9 825.6,513.4 826.4,509.7 827.2,506 828.1,502.2 828.9,498.4 829.8,494.5 830.6,490.6 831.4,486.7 832.3,482.8 833.1,478.9 833.9,475 834.8,471.1 835.6,467.3 836.5,463.6 837.3,459.9 838.1,456.3 839,452.8 839.8,449.5 840.6,446.2 841.5,443 842.3,440 843.2,437.1 844,434.4 844.8,431.8 845.7,429.4 846.5,427.2 847.3,425.1 848.2,423.3 849,421.6 849.9,420.2 850.7,418.9 851.5,417.9 852.4,417 853.2,416.4 854,416 854.9,415.8 855.7,415.8 856.6,416 857.4,416.5 858.2,417.2 859.1,418.1 859.9,419.2 860.7,420.6 861.6,422.1 862.4,423.9 863.2,425.8 864.1,427.9 864.9,430.3 865.8,432.8 866.6,435.5 867.4,438.3 868.3,441.3 869.1,444.5 869.9,447.8 870.8,451.3 871.6,454.8 872.5,458.5 873.3,462.3 874.1,466.1 875,470.1 875.8,474.1 876.6,478.2 877.5,482.3 878.3,486.4 879.2,490.6 880,494.8 880.8,499 881.7,503.2 882.5,507.3 883.3,511.4 884.2,515.5 885,519.5 885.9,523.4 886.7,527.3 887.5,531.1 888.4,534.7 889.2,538.3 890,541.7 890.9,545 891.7,548.1 892.6,551.1 893.4,554 894.2,556.6 895.1,559.1 895.9,561.4 896.7,563.6 897.6,565.5 898.4,567.2 899.2,568.8 900.1,570.1 900.9,571.2 901.8,572 902.6,572.7 903.4,573.2 904.3,573.4 905.1,573.4 905.9,573.1 906.8,572.6 907.6,571.9 908.5,570.9 909.3,569.7 910.1,568.2 911,566.5 911.8,564.6 912.6,562.4 913.5,560 914.3,557.5 915.2,554.7 916,551.7 916.8,548.5 917.7,545.2 918.5,541.7 919.3,538 920.2,534.2 921,530.3 921.9,526.2 922.7,522 923.5,517.7 924.4,513.4 925.2,508.9 926,504.4 926.9,499.9 927.7,495.3 928.6,490.7 929.4,486.1 930.2,481.5 931.1,476.9 931.9,472.3 932.7,467.8 933.6,463.4 934.4,459 935.2,454.7 936.1,450.5 936.9,446.4 937.8,442.4 938.6,438.6 939.4,434.9 940.3,431.3 941.1,428 941.9,424.8 942.8,421.7 943.6,418.9 944.5,416.3 945.3,413.9 946.1,411.7 947,409.7 947.8,408 948.6,406.5 949.5,405.2 950.3,404.1 951.2,403.3 952,402.8 952.8,402.5 953.7,402.4 954.5,402.7 955.3,403.2 956.2,403.9 957,405 957.9,406.3 958.7,407.9 959.5,409.7 960.4,411.8 961.2,414.2 962,416.7 962.9,419.6 963.7,422.6 964.5,425.9 965.4,429.3 966.2,433 967.1,436.8 967.9,440.8 968.7,445 969.6,449.3 970.4,453.8 971.2,458.3 972.1,463 972.9,467.8 973.8,472.6 974.6,477.5 975.4,482.5 976.3,487.5 977.1,492.5 977.9,497.5 978.8,502.4 979.6,507.4 980.5,512.3 981.3,517.2 982.1,521.9 983,526.6 983.8,531.2 984.6,535.7 985.5,540 986.3,544.2 987.2,548.2 988,552.1 988.8,555.7 989.7,559.2 990.5,562.5 991.3,565.6 992.2,568.4 993,571 993.9,573.4 994.7,575.5 995.5,577.4 996.4,579 997.2,580.3 998,581.4 998.9,582.2 999.7,582.7 1000.5,583 1001.4,582.9 1002.2,582.6 1003.1,582 1003.9,581.1 1004.7,579.9 1005.6,578.4 1006.4,576.6 1007.2,574.6 1008.1,572.3 1008.9,569.7 1009.8,566.9 1010.6,563.8 1011.4,560.5 1012.3,557 1013.1,553.2 1013.9,549.3 1014.8,545.1 1015.6,540.8 1016.5,536.3 1017.3,531.6 1018.1,526.8 1019,521.9 1019.8,516.8 1020.6,511.7 1021.5,506.5 1022.3,501.2 1023.2,495.8 1024,490.4 1024.8,485 1025.7,479.6 1026.5,474.3 1027.3,468.9 1028.2,463.6 1029,458.3 1029.9,453.2 1030.7,448.1 1031.5,443.1 1032.4,438.2 1033.2,433.5" fill="none" stroke="#b0262e" stroke-width="2.0" stroke-dasharray="4.5,1.5,2.5,1.5" stroke-linejoin="round"/>
<path d="M614.6,456.6 615.4,456.5 616.3,456.4 617.1,456.2 617.9,456.1 618.8,456 619.6,455.9 620.5,455.8 621.3,455.7 622.1,455.6 623,455.5 623.8,455.4 624.6,455.4 625.5,455.3 626.3,455.2 627.2,455.1 628,455.1 628.8,455 629.7,454.9 630.5,454.9 631.3,454.8 632.2,454.8 633,454.7 633.9,454.6 634.7,454.6 635.5,454.5 636.4,454.5 637.2,454.5 638,454.4 638.9,454.4 639.7,454.3 640.6,454.3 641.4,454.2 642.2,454.2 643.1,454.2 643.9,454.1 644.7,454.1 645.6,454.1 646.4,454 647.3,454 648.1,454 648.9,453.9 649.8,453.9 650.6,453.9 651.4,453.8 652.3,453.8 653.1,453.8 653.9,453.7 654.8,453.7 655.6,453.7 656.5,453.6 657.3,453.6 658.1,453.6 659,453.5 659.8,453.5 660.6,453.5 661.5,453.4 662.3,453.4 663.2,453.3 664,453.3 664.8,453.3 665.7,453.2 666.5,453.2 667.3,453.1 668.2,453.1 669,453 669.9,453 670.7,452.9 671.5,452.9 672.4,452.8 673.2,452.8 674,452.7 674.9,452.7 675.7,452.6 676.6,452.6 677.4,452.5 678.2,452.4 679.1,452.4 679.9,452.3 680.7,452.3 681.6,452.2 682.4,452.1 683.3,452 684.1,452 684.9,451.9 685.8,451.8 686.6,451.7 687.4,451.7 688.3,451.6 689.1,451.5 689.9,451.4 690.8,451.3 691.6,451.2 692.5,451.1 693.3,451.1 694.1,451 695,450.9 695.8,450.8 696.6,450.7 697.5,450.6 698.3,450.5 699.2,450.3 700,450.2 700.8,450.1 701.7,450 702.5,449.9 703.3,449.8 704.2,449.7 705,449.6 705.9,449.4 706.7,449.3 707.5,449.2 708.4,449.1 709.2,448.9 710,448.8 710.9,448.7 711.7,448.5 712.6,448.4 713.4,448.2 714.2,448.1 715.1,448 715.9,447.8 716.7,447.7 717.6,447.5 718.4,447.4 719.2,447.2 720.1,447.1 720.9,446.9 721.8,446.8 722.6,446.6 723.4,446.4 724.3,446.3 725.1,446.1 725.9,446 726.8,445.8 727.6,445.6 728.5,445.5 729.3,445.3 730.1,445.1 731,444.9 731.8,444.8 732.6,444.6 733.5,444.4 734.3,444.2 735.2,444 736,443.9 736.8,443.7 737.7,443.5 738.5,443.3 739.3,443.1 740.2,442.9 741,442.7 741.9,442.5 742.7,442.3 743.5,442.2 744.4,442 745.2,441.8 746,441.6 746.9,441.4 747.7,441.2 748.6,441 749.4,440.8 750.2,440.6 751.1,440.4 751.9,440.1 752.7,439.9 753.6,439.7 754.4,439.5 755.2,439.3 756.1,439.1 756.9,438.9 757.8,438.7 758.6,438.5 759.4,438.3 760.3,438.1 761.1,437.8 761.9,437.6 762.8,437.4 763.6,437.2 764.5,437 765.3,436.8 766.1,436.5 767,436.3 767.8,436.1 768.6,435.9 769.5,435.7 770.3,435.4 771.2,435.2 772,435 772.8,434.8 773.7,434.6 774.5,434.3 775.3,434.1 776.2,433.9 777,433.7 777.9,433.5 778.7,433.2 779.5,433 780.4,432.8 781.2,432.6 782,432.3 782.9,432.1 783.7,431.9 784.6,431.7 785.4,431.5 786.2,431.2 787.1,431 787.9,430.8 788.7,430.6 789.6,430.4 790.4,430.1 791.2,429.9 792.1,429.7 792.9,429.5 793.8,429.3 794.6,429 795.4,428.8 796.3,428.6 797.1,428.4 797.9,428.2 798.8,427.9 799.6,427.7 800.5,427.5 801.3,427.3 802.1,427.1 803,426.9 803.8,426.6 804.6,426.4 805.5,426.2 806.3,426 807.2,425.8 808,425.6 808.8,425.4 809.7,425.2 810.5,425 811.3,424.7 812.2,424.5 813,424.3 813.9,424.1 814.7,423.9 815.5,423.7 816.4,423.5 817.2,423.3 818,423.1 818.9,422.9 819.7,422.7 820.6,422.5 821.4,422.3 822.2,422.1 823.1,421.9 823.9,421.7 824.7,421.5 825.6,421.3 826.4,421.1 827.2,420.9 828.1,420.7 828.9,420.6 829.8,420.4 830.6,420.2 831.4,420 832.3,419.8 833.1,419.6 833.9,419.4 834.8,419.3 835.6,419.1 836.5,418.9 837.3,418.7 838.1,418.5 839,418.4 839.8,418.2 840.6,418 841.5,417.8 842.3,417.7 843.2,417.5 844,417.3 844.8,417.1 845.7,417 846.5,416.8 847.3,416.6 848.2,416.5 849,416.3 849.9,416.1 850.7,416 851.5,415.8 852.4,415.7 853.2,415.5 854,415.3 854.9,415.2 855.7,415 856.6,414.9 857.4,414.7 858.2,414.6 859.1,414.4 859.9,414.3 860.7,414.1 861.6,414 862.4,413.8 863.2,413.7 864.1,413.5 864.9,413.4 865.8,413.3 866.6,413.1 867.4,413 868.3,412.8 869.1,412.7 869.9,412.6 870.8,412.4 871.6,412.3 872.5,412.2 873.3,412 874.1,411.9 875,411.8 875.8,411.6 876.6,411.5 877.5,411.4 878.3,411.3 879.2,411.1 880,411 880.8,410.9 881.7,410.8 882.5,410.6 883.3,410.5 884.2,410.4 885,410.3 885.9,410.2 886.7,410 887.5,409.9 888.4,409.8 889.2,409.7 890,409.6 890.9,409.5 891.7,409.4 892.6,409.3 893.4,409.1 894.2,409 895.1,408.9 895.9,408.8 896.7,408.7 897.6,408.6 898.4,408.5 899.2,408.4 900.1,408.3 900.9,408.2 901.8,408.1 902.6,408 903.4,407.9 904.3,407.8 905.1,407.7 905.9,407.6 906.8,407.5 907.6,407.4 908.5,407.3 909.3,407.2 910.1,407.1 911,407 911.8,406.9 912.6,406.8 913.5,406.7 914.3,406.6 915.2,406.6 916,406.5 916.8,406.4 917.7,406.3 918.5,406.2 919.3,406.1 920.2,406 921,405.9 921.9,405.8 922.7,405.7 923.5,405.7 924.4,405.6 925.2,405.5 926,405.4 926.9,405.3 927.7,405.2 928.6,405.1 929.4,405.1 930.2,405 931.1,404.9 931.9,404.8 932.7,404.7 933.6,404.6 934.4,404.5 935.2,404.5 936.1,404.4 936.9,404.3 937.8,404.2 938.6,404.1 939.4,404.1 940.3,404 941.1,403.9 941.9,403.8 942.8,403.7 943.6,403.6 944.5,403.6 945.3,403.5 946.1,403.4 947,403.3 947.8,403.2 948.6,403.2 949.5,403.1 950.3,403 951.2,402.9 952,402.8 952.8,402.7 953.7,402.7 954.5,402.6 955.3,402.5 956.2,402.4 957,402.3 957.9,402.3 958.7,402.2 959.5,402.1 960.4,402 961.2,401.9 962,401.9 962.9,401.8 963.7,401.7 964.5,401.6 965.4,401.6 966.2,401.5 967.1,401.4 967.9,401.3 968.7,401.2 969.6,401.2 970.4,401.1 971.2,401 972.1,400.9 972.9,400.9 973.8,400.8 974.6,400.7 975.4,400.6 976.3,400.5 977.1,400.5 977.9,400.4 978.8,400.3 979.6,400.2 980.5,400.2 981.3,400.1 982.1,400 983,400 983.8,399.9 984.6,399.8 985.5,399.7 986.3,399.7 987.2,399.6 988,399.5 988.8,399.5 989.7,399.4 990.5,399.3 991.3,399.3 992.2,399.2 993,399.1 993.9,399.1 994.7,399 995.5,398.9 996.4,398.9 997.2,398.8 998,398.8 998.9,398.7 999.7,398.7 1000.5,398.6 1001.4,398.5 1002.2,398.5 1003.1,398.4 1003.9,398.4 1004.7,398.3 1005.6,398.3 1006.4,398.2 1007.2,398.2 1008.1,398.2 1008.9,398.1 1009.8,398.1 1010.6,398.1 1011.4,398 1012.3,398 1013.1,398 1013.9,397.9 1014.8,397.9 1015.6,397.9 1016.5,397.9 1017.3,397.8 1018.1,397.8 1019,397.8 1019.8,397.8 1020.6,397.8 1021.5,397.8 1022.3,397.8 1023.2,397.8 1024,397.8 1024.8,397.8 1025.7,397.8 1026.5,397.8 1027.3,397.9 1028.2,397.9 1029,397.9 1029.9,397.9 1030.7,398 1031.5,398 1032.4,398 1033.2,398.1" fill="none" stroke="#d61a1f" stroke-width="2.7" stroke-linejoin="round"/>
<path d="M614.6,490.3 615.4,491.9 616.3,493.5 617.1,495 617.9,496.6 618.8,498.2 619.6,499.7 620.5,501.3 621.3,502.8 622.1,504.3 623,505.7 623.8,507.1 624.6,508.5 625.5,509.8 626.3,511 627.2,512.2 628,513.3 628.8,514.4 629.7,515.3 630.5,516.2 631.3,517 632.2,517.8 633,518.4 633.9,519 634.7,519.4 635.5,519.8 636.4,520 637.2,520.2 638,520.3 638.9,520.3 639.7,520.2 640.6,519.9 641.4,519.6 642.2,519.1 643.1,518.6 643.9,517.9 644.7,517.2 645.6,516.4 646.4,515.4 647.3,514.4 648.1,513.3 648.9,512.1 649.8,510.9 650.6,509.5 651.4,508.1 652.3,506.7 653.1,505.2 653.9,503.6 654.8,502 655.6,500.3 656.5,498.7 657.3,497 658.1,495.2 659,493.5 659.8,491.7 660.6,490 661.5,488.2 662.3,486.5 663.2,484.8 664,483.1 664.8,481.5 665.7,479.8 666.5,478.3 667.3,476.7 668.2,475.3 669,473.9 669.9,472.5 670.7,471.2 671.5,470 672.4,468.9 673.2,467.9 674,466.9 674.9,466.1 675.7,465.3 676.6,464.7 677.4,464.1 678.2,463.6 679.1,463.3 679.9,463 680.7,462.9 681.6,462.8 682.4,462.9 683.3,463.1 684.1,463.4 684.9,463.8 685.8,464.3 686.6,464.9 687.4,465.6 688.3,466.5 689.1,467.4 689.9,468.4 690.8,469.5 691.6,470.7 692.5,472 693.3,473.4 694.1,474.8 695,476.3 695.8,477.8 696.6,479.4 697.5,481.1 698.3,482.8 699.2,484.5 700,486.2 700.8,488 701.7,489.8 702.5,491.5 703.3,493.3 704.2,495.1 705,496.8 705.9,498.5 706.7,500.2 707.5,501.9 708.4,503.5 709.2,505 710,506.5 710.9,508 711.7,509.3 712.6,510.6 713.4,511.8 714.2,512.9 715.1,514 715.9,514.9 716.7,515.8 717.6,516.5 718.4,517.1 719.2,517.6 720.1,518.1 720.9,518.4 721.8,518.6 722.6,518.6 723.4,518.6 724.3,518.5 725.1,518.2 725.9,517.8 726.8,517.3 727.6,516.7 728.5,516 729.3,515.2 730.1,514.3 731,513.3 731.8,512.2 732.6,511 733.5,509.7 734.3,508.3 735.2,506.9 736,505.4 736.8,503.8 737.7,502.2 738.5,500.5 739.3,498.8 740.2,497 741,495.2 741.9,493.4 742.7,491.5 743.5,489.7 744.4,487.8 745.2,486 746,484.1 746.9,482.3 747.7,480.5 748.6,478.7 749.4,477 750.2,475.3 751.1,473.7 751.9,472.1 752.7,470.6 753.6,469.1 754.4,467.7 755.2,466.5 756.1,465.2 756.9,464.1 757.8,463.1 758.6,462.2 759.4,461.4 760.3,460.6 761.1,460 761.9,459.5 762.8,459.1 763.6,458.9 764.5,458.7 765.3,458.7 766.1,458.7 767,459 767.8,459.3 768.6,459.8 769.5,460.4 770.3,461.1 771.2,462 772,462.9 772.8,464 773.7,465.2 774.5,466.5 775.3,468 776.2,469.5 777,471.1 777.9,472.8 778.7,474.6 779.5,476.5 780.4,478.4 781.2,480.4 782,482.4 782.9,484.6 783.7,486.7 784.6,488.9 785.4,491.1 786.2,493.3 787.1,495.6 787.9,497.8 788.7,500 789.6,502.3 790.4,504.5 791.2,506.6 792.1,508.8 792.9,510.9 793.8,512.9 794.6,514.9 795.4,516.9 796.3,518.7 797.1,520.5 797.9,522.2 798.8,523.8 799.6,525.3 800.5,526.7 801.3,528 802.1,529.2 803,530.3 803.8,531.3 804.6,532.1 805.5,532.8 806.3,533.4 807.2,533.9 808,534.2 808.8,534.4 809.7,534.5 810.5,534.4 811.3,534.2 812.2,533.8 813,533.3 813.9,532.7 814.7,531.9 815.5,530.9 816.4,529.9 817.2,528.7 818,527.3 818.9,525.9 819.7,524.3 820.6,522.6 821.4,520.9 822.2,519 823.1,517 823.9,514.9 824.7,512.7 825.6,510.4 826.4,508.1 827.2,505.7 828.1,503.3 828.9,500.8 829.8,498.2 830.6,495.6 831.4,493 832.3,490.4 833.1,487.8 833.9,485.1 834.8,482.5 835.6,479.8 836.5,477.2 837.3,474.7 838.1,472.1 839,469.6 839.8,467.2 840.6,464.8 841.5,462.5 842.3,460.2 843.2,458.1 844,456 844.8,454 845.7,452.1 846.5,450.3 847.3,448.6 848.2,447.1 849,445.6 849.9,444.3 850.7,443.2 851.5,442.1 852.4,441.2 853.2,440.4 854,439.8 854.9,439.3 855.7,438.9 856.6,438.7 857.4,438.7 858.2,438.8 859.1,439 859.9,439.4 860.7,440 861.6,440.7 862.4,441.6 863.2,442.6 864.1,443.8 864.9,445.1 865.8,446.6 866.6,448.2 867.4,449.9 868.3,451.8 869.1,453.8 869.9,455.9 870.8,458.1 871.6,460.4 872.5,462.8 873.3,465.3 874.1,467.9 875,470.6 875.8,473.3 876.6,476.1 877.5,479 878.3,481.9 879.2,484.8 880,487.8 880.8,490.8 881.7,493.8 882.5,496.8 883.3,499.8 884.2,502.8 885,505.8 885.9,508.8 886.7,511.7 887.5,514.5 888.4,517.4 889.2,520.1 890,522.8 890.9,525.4 891.7,527.9 892.6,530.4 893.4,532.7 894.2,534.9 895.1,537.1 895.9,539.1 896.7,541 897.6,542.7 898.4,544.3 899.2,545.8 900.1,547.2 900.9,548.4 901.8,549.5 902.6,550.4 903.4,551.1 904.3,551.7 905.1,552.2 905.9,552.4 906.8,552.6 907.6,552.5 908.5,552.3 909.3,551.9 910.1,551.3 911,550.5 911.8,549.6 912.6,548.4 913.5,547.1 914.3,545.6 915.2,544 916,542.2 916.8,540.2 917.7,538.1 918.5,535.8 919.3,533.4 920.2,530.9 921,528.2 921.9,525.4 922.7,522.5 923.5,519.5 924.4,516.4 925.2,513.2 926,510 926.9,506.7 927.7,503.3 928.6,499.9 929.4,496.4 930.2,492.9 931.1,489.4 931.9,485.9 932.7,482.3 933.6,478.8 934.4,475.3 935.2,471.9 936.1,468.5 936.9,465.1 937.8,461.8 938.6,458.5 939.4,455.4 940.3,452.3 941.1,449.3 941.9,446.4 942.8,443.6 943.6,441 944.5,438.4 945.3,436 946.1,433.8 947,431.7 947.8,429.7 948.6,427.9 949.5,426.3 950.3,424.8 951.2,423.5 952,422.4 952.8,421.5 953.7,420.7 954.5,420.1 955.3,419.8 956.2,419.5 957,419.5 957.9,419.7 958.7,420.2 959.5,420.9 960.4,421.8 961.2,422.9 962,424.2 962.9,425.8 963.7,427.6 964.5,429.6 965.4,431.8 966.2,434.2 967.1,436.7 967.9,439.5 968.7,442.4 969.6,445.5 970.4,448.7 971.2,452.1 972.1,455.6 972.9,459.3 973.8,463 974.6,466.8 975.4,470.7 976.3,474.7 977.1,478.8 977.9,482.9 978.8,487 979.6,491.2 980.5,495.3 981.3,499.5 982.1,503.6 983,507.7 983.8,511.8 984.6,515.8 985.5,519.7 986.3,523.5 987.2,527.3 988,531 988.8,534.5 989.7,537.9 990.5,541.2 991.3,544.3 992.2,547.2 993,550 993.9,552.6 994.7,555.1 995.5,557.3 996.4,559.3 997.2,561.1 998,562.8 998.9,564.2 999.7,565.3 1000.5,566.3 1001.4,567 1002.2,567.5 1003.1,567.7 1003.9,567.8 1004.7,567.5 1005.6,567.1 1006.4,566.3 1007.2,565.4 1008.1,564.2 1008.9,562.7 1009.8,561 1010.6,559.1 1011.4,557 1012.3,554.6 1013.1,552.1 1013.9,549.3 1014.8,546.3 1015.6,543.2 1016.5,539.8 1017.3,536.3 1018.1,532.7 1019,528.9 1019.8,525 1020.6,520.9 1021.5,516.8 1022.3,512.5 1023.2,508.2 1024,503.8 1024.8,499.3 1025.7,494.8 1026.5,490.2 1027.3,485.6 1028.2,481.1 1029,476.5 1029.9,472 1030.7,467.5 1031.5,463 1032.4,458.6 1033.2,454.3" fill="none" stroke="#111111" stroke-width="1.7" stroke-dasharray="4,2" stroke-linejoin="round"/>
<path d="M614.6,462.1 615.4,461.9 616.3,461.8 617.1,461.7 617.9,461.6 618.8,461.5 619.6,461.4 620.5,461.3 621.3,461.2 622.1,461.1 623,461 623.8,461 624.6,460.9 625.5,460.9 626.3,460.8 627.2,460.8 628,460.8 628.8,460.7 629.7,460.7 630.5,460.7 631.3,460.7 632.2,460.7 633,460.7 633.9,460.7 634.7,460.7 635.5,460.7 636.4,460.7 637.2,460.7 638,460.7 638.9,460.7 639.7,460.8 640.6,460.8 641.4,460.8 642.2,460.9 643.1,460.9 643.9,460.9 644.7,461 645.6,461 646.4,461.1 647.3,461.1 648.1,461.2 648.9,461.2 649.8,461.3 650.6,461.3 651.4,461.4 652.3,461.4 653.1,461.5 653.9,461.5 654.8,461.6 655.6,461.6 656.5,461.7 657.3,461.8 658.1,461.8 659,461.9 659.8,461.9 660.6,462 661.5,462.1 662.3,462.1 663.2,462.2 664,462.3 664.8,462.3 665.7,462.4 666.5,462.4 667.3,462.5 668.2,462.5 669,462.6 669.9,462.7 670.7,462.7 671.5,462.8 672.4,462.8 673.2,462.9 674,462.9 674.9,463 675.7,463 676.6,463.1 677.4,463.1 678.2,463.2 679.1,463.2 679.9,463.3 680.7,463.3 681.6,463.3 682.4,463.4 683.3,463.4 684.1,463.5 684.9,463.5 685.8,463.5 686.6,463.5 687.4,463.6 688.3,463.6 689.1,463.6 689.9,463.7 690.8,463.7 691.6,463.7 692.5,463.7 693.3,463.7 694.1,463.7 695,463.7 695.8,463.8 696.6,463.8 697.5,463.8 698.3,463.8 699.2,463.8 700,463.8 700.8,463.8 701.7,463.8 702.5,463.7 703.3,463.7 704.2,463.7 705,463.7 705.9,463.7 706.7,463.7 707.5,463.6 708.4,463.6 709.2,463.6 710,463.6 710.9,463.5 711.7,463.5 712.6,463.5 713.4,463.4 714.2,463.4 715.1,463.3 715.9,463.3 716.7,463.2 717.6,463.2 718.4,463.1 719.2,463.1 720.1,463 720.9,463 721.8,462.9 722.6,462.8 723.4,462.8 724.3,462.7 725.1,462.6 725.9,462.6 726.8,462.5 727.6,462.4 728.5,462.3 729.3,462.3 730.1,462.2 731,462.1 731.8,462 732.6,461.9 733.5,461.8 734.3,461.7 735.2,461.6 736,461.5 736.8,461.4 737.7,461.3 738.5,461.2 739.3,461.1 740.2,461 741,460.9 741.9,460.8 742.7,460.7 743.5,460.6 744.4,460.4 745.2,460.3 746,460.2 746.9,460.1 747.7,460 748.6,459.8 749.4,459.7 750.2,459.6 751.1,459.4 751.9,459.3 752.7,459.2 753.6,459 754.4,458.9 755.2,458.8 756.1,458.6 756.9,458.5 757.8,458.3 758.6,458.2 759.4,458 760.3,457.9 761.1,457.7 761.9,457.6 762.8,457.4 763.6,457.3 764.5,457.1 765.3,457 766.1,456.8 767,456.7 767.8,456.5 768.6,456.4 769.5,456.2 770.3,456 771.2,455.9 772,455.7 772.8,455.5 773.7,455.4 774.5,455.2 775.3,455 776.2,454.9 777,454.7 777.9,454.5 778.7,454.3 779.5,454.2 780.4,454 781.2,453.8 782,453.7 782.9,453.5 783.7,453.3 784.6,453.1 785.4,452.9 786.2,452.8 787.1,452.6 787.9,452.4 788.7,452.2 789.6,452.1 790.4,451.9 791.2,451.7 792.1,451.5 792.9,451.3 793.8,451.1 794.6,451 795.4,450.8 796.3,450.6 797.1,450.4 797.9,450.2 798.8,450 799.6,449.9 800.5,449.7 801.3,449.5 802.1,449.3 803,449.1 803.8,448.9 804.6,448.7 805.5,448.6 806.3,448.4 807.2,448.2 808,448 808.8,447.8 809.7,447.6 810.5,447.4 811.3,447.3 812.2,447.1 813,446.9 813.9,446.7 814.7,446.5 815.5,446.3 816.4,446.1 817.2,446 818,445.8 818.9,445.6 819.7,445.4 820.6,445.2 821.4,445 822.2,444.9 823.1,444.7 823.9,444.5 824.7,444.3 825.6,444.1 826.4,443.9 827.2,443.8 828.1,443.6 828.9,443.4 829.8,443.2 830.6,443 831.4,442.8 832.3,442.7 833.1,442.5 833.9,442.3 834.8,442.1 835.6,441.9 836.5,441.8 837.3,441.6 838.1,441.4 839,441.2 839.8,441.1 840.6,440.9 841.5,440.7 842.3,440.5 843.2,440.4 844,440.2 844.8,440 845.7,439.8 846.5,439.7 847.3,439.5 848.2,439.3 849,439.1 849.9,439 850.7,438.8 851.5,438.6 852.4,438.5 853.2,438.3 854,438.1 854.9,438 855.7,437.8 856.6,437.6 857.4,437.4 858.2,437.3 859.1,437.1 859.9,436.9 860.7,436.8 861.6,436.6 862.4,436.5 863.2,436.3 864.1,436.1 864.9,436 865.8,435.8 866.6,435.6 867.4,435.5 868.3,435.3 869.1,435.2 869.9,435 870.8,434.8 871.6,434.7 872.5,434.5 873.3,434.4 874.1,434.2 875,434 875.8,433.9 876.6,433.7 877.5,433.6 878.3,433.4 879.2,433.3 880,433.1 880.8,432.9 881.7,432.8 882.5,432.6 883.3,432.5 884.2,432.3 885,432.2 885.9,432 886.7,431.9 887.5,431.7 888.4,431.6 889.2,431.4 890,431.3 890.9,431.1 891.7,431 892.6,430.8 893.4,430.7 894.2,430.5 895.1,430.4 895.9,430.2 896.7,430.1 897.6,429.9 898.4,429.8 899.2,429.6 900.1,429.5 900.9,429.3 901.8,429.2 902.6,429 903.4,428.9 904.3,428.7 905.1,428.6 905.9,428.4 906.8,428.3 907.6,428.1 908.5,428 909.3,427.8 910.1,427.7 911,427.5 911.8,427.4 912.6,427.2 913.5,427.1 914.3,426.9 915.2,426.8 916,426.6 916.8,426.5 917.7,426.3 918.5,426.2 919.3,426 920.2,425.9 921,425.7 921.9,425.6 922.7,425.4 923.5,425.3 924.4,425.1 925.2,425 926,424.8 926.9,424.7 927.7,424.5 928.6,424.4 929.4,424.2 930.2,424.1 931.1,423.9 931.9,423.8 932.7,423.6 933.6,423.5 934.4,423.3 935.2,423.2 936.1,423 936.9,422.9 937.8,422.7 938.6,422.6 939.4,422.4 940.3,422.3 941.1,422.1 941.9,422 942.8,421.8 943.6,421.7 944.5,421.5 945.3,421.4 946.1,421.2 947,421.1 947.8,420.9 948.6,420.8 949.5,420.6 950.3,420.5 951.2,420.3 952,420.2 952.8,420 953.7,419.8 954.5,419.7 955.3,419.5 956.2,419.4 957,419.2 957.9,419.1 958.7,418.9 959.5,418.8 960.4,418.6 961.2,418.5 962,418.3 962.9,418.2 963.7,418 964.5,417.9 965.4,417.7 966.2,417.6 967.1,417.4 967.9,417.3 968.7,417.1 969.6,417 970.4,416.8 971.2,416.7 972.1,416.5 972.9,416.4 973.8,416.3 974.6,416.1 975.4,416 976.3,415.8 977.1,415.7 977.9,415.5 978.8,415.4 979.6,415.3 980.5,415.1 981.3,415 982.1,414.8 983,414.7 983.8,414.6 984.6,414.4 985.5,414.3 986.3,414.2 987.2,414.1 988,413.9 988.8,413.8 989.7,413.7 990.5,413.6 991.3,413.4 992.2,413.3 993,413.2 993.9,413.1 994.7,413 995.5,412.9 996.4,412.7 997.2,412.6 998,412.5 998.9,412.4 999.7,412.3 1000.5,412.2 1001.4,412.1 1002.2,412.1 1003.1,412 1003.9,411.9 1004.7,411.8 1005.6,411.7 1006.4,411.6 1007.2,411.6 1008.1,411.5 1008.9,411.4 1009.8,411.4 1010.6,411.3 1011.4,411.3 1012.3,411.2 1013.1,411.2 1013.9,411.1 1014.8,411.1 1015.6,411.1 1016.5,411 1017.3,411 1018.1,411 1019,411 1019.8,411 1020.6,411 1021.5,411 1022.3,411 1023.2,411 1024,411 1024.8,411 1025.7,411.1 1026.5,411.1 1027.3,411.1 1028.2,411.2 1029,411.3 1029.9,411.3 1030.7,411.4 1031.5,411.5 1032.4,411.6 1033.2,411.7" fill="none" stroke="#0a0a0a" stroke-width="2.7" stroke-linejoin="round"/>
<path d="M614.6,366.2 L614.6,616.1 L1033.2,616.1" fill="none" stroke="#222222" stroke-width="1.5"/>
<line x1="609.6" y1="366.2" x2="614.6" y2="366.2" stroke="#222222" stroke-width="1.4"/>
<text x="604.9" y="371.6" text-anchor="end" class="tk">0.3</text>
<line x1="609.6" y1="407.9" x2="614.6" y2="407.9" stroke="#222222" stroke-width="1.4"/>
<text x="604.9" y="413.2" text-anchor="end" class="tk">0.2</text>
<line x1="609.6" y1="449.5" x2="614.6" y2="449.5" stroke="#222222" stroke-width="1.4"/>
<text x="604.9" y="454.9" text-anchor="end" class="tk">0.1</text>
<line x1="609.6" y1="491.1" x2="614.6" y2="491.1" stroke="#222222" stroke-width="1.4"/>
<text x="604.9" y="496.5" text-anchor="end" class="tk">0</text>
<line x1="609.6" y1="532.8" x2="614.6" y2="532.8" stroke="#222222" stroke-width="1.4"/>
<text x="604.9" y="538.2" text-anchor="end" class="tk">-0.1</text>
<line x1="609.6" y1="574.5" x2="614.6" y2="574.5" stroke="#222222" stroke-width="1.4"/>
<text x="604.9" y="579.9" text-anchor="end" class="tk">-0.2</text>
<line x1="609.6" y1="616.1" x2="614.6" y2="616.1" stroke="#222222" stroke-width="1.4"/>
<text x="604.9" y="621.5" text-anchor="end" class="tk">-0.3</text>
<line x1="614.6" y1="616.1" x2="614.6" y2="621.1" stroke="#222222" stroke-width="1.4"/>
<text x="614.6" y="639.5" text-anchor="middle" class="tk">100</text>
<line x1="698.3" y1="616.1" x2="698.3" y2="621.1" stroke="#222222" stroke-width="1.4"/>
<text x="698.3" y="639.5" text-anchor="middle" class="tk">110</text>
<line x1="782.0" y1="616.1" x2="782.0" y2="621.1" stroke="#222222" stroke-width="1.4"/>
<text x="782.0" y="639.5" text-anchor="middle" class="tk">120</text>
<line x1="865.8" y1="616.1" x2="865.8" y2="621.1" stroke="#222222" stroke-width="1.4"/>
<text x="865.8" y="639.5" text-anchor="middle" class="tk">130</text>
<line x1="949.5" y1="616.1" x2="949.5" y2="621.1" stroke="#222222" stroke-width="1.4"/>
<text x="949.5" y="639.5" text-anchor="middle" class="tk">140</text>
<line x1="1033.2" y1="616.1" x2="1033.2" y2="621.1" stroke="#222222" stroke-width="1.4"/>
<text x="1033.2" y="639.5" text-anchor="middle" class="tk">150</text>
<text x="798.92" y="658.00" textLength="50.50" lengthAdjust="spacingAndGlyphs" style="font-family:'Liberation Sans', sans-serif;font-size:14.2px;">Time (s)</text>
<text transform="rotate(-90)" x="-565.67" y="573.30" textLength="149.60" lengthAdjust="spacingAndGlyphs" style="font-family:'Liberation Sans',sans-serif;font-size:14.3px;">Relative changes (<tspan style="font-family:'Liberation Serif',serif;font-style:italic">μ</tspan> M)</text>
<text x="662.36" y="361.10" textLength="190.41" lengthAdjust="spacingAndGlyphs" style="font-family:'Liberation Sans', sans-serif;font-size:14.2px;font-weight:bold;">Amplitude Ratio (HbO/HbT)</text>
<text x="856.61" y="361.10" textLength="12.64" lengthAdjust="spacingAndGlyphs" style="font-family:'Liberation Serif', serif;font-size:14.2px;">Δ</text>
<text x="869.53" y="361.10" textLength="9.47" lengthAdjust="spacingAndGlyphs" style="font-family:'Liberation Serif', serif;font-size:14.2px;font-style:italic;">ϕ</text>
<text x="881.93" y="361.10" textLength="9.81" lengthAdjust="spacingAndGlyphs" style="font-family:'Liberation Sans', sans-serif;font-size:14.2px;font-weight:bold;">=</text>
<text x="894.99" y="361.10" textLength="36.07" lengthAdjust="spacingAndGlyphs" style="font-family:'Liberation Sans', sans-serif;font-size:14.2px;font-weight:bold;">0.04°</text>
<text x="934.56" y="361.10" textLength="11.76" lengthAdjust="spacingAndGlyphs" style="font-family:'Liberation Sans', sans-serif;font-size:14.2px;">±</text>
<text x="949.91" y="361.10" textLength="34.41" lengthAdjust="spacingAndGlyphs" style="font-family:'Liberation Sans', sans-serif;font-size:14.2px;font-weight:bold;">0.25°</text>
<text x="549.29" y="371.30" textLength="25.40" lengthAdjust="spacingAndGlyphs" style="font-family:'Liberation Sans', sans-serif;font-size:18px;font-weight:bold;">(D)</text>
<rect x="642.7" y="536.9" width="153.0" height="74.6" fill="#fff"/>
<line x1="642.7" y1="536.9" x2="795.7" y2="536.9" stroke="#e2e2e2" stroke-width="1"/>
<line x1="642.7" y1="611.5" x2="795.7" y2="611.5" stroke="#b4b4b4" stroke-width="1"/>
<line x1="642.7" y1="536.9" x2="642.7" y2="612.0" stroke="#5a5a5a" stroke-width="1"/>
<line x1="795.7" y1="536.9" x2="795.7" y2="612.0" stroke="#8e8e8e" stroke-width="1"/>
<line x1="645.8" y1="547.5" x2="672.8" y2="547.5" stroke="#a52a2e" stroke-width="1.7" stroke-dasharray="6.6,1.8,2.4,1.8"/>
<text x="676.66" y="552.80" textLength="11.85" lengthAdjust="spacingAndGlyphs" style="font-family:'Liberation Serif', serif;font-size:14.3px;">Δ</text>
<text x="688.15" y="552.80" textLength="88.83" lengthAdjust="spacingAndGlyphs" style="font-family:'Liberation Sans', sans-serif;font-size:14.3px;">[HbO]-filtered</text>
<line x1="645.8" y1="565.3" x2="672.8" y2="565.3" stroke="#d21a1f" stroke-width="2.7"/>
<text x="676.66" y="570.60" textLength="11.85" lengthAdjust="spacingAndGlyphs" style="font-family:'Liberation Serif', serif;font-size:14.3px;">Δ</text>
<text x="688.16" y="570.60" textLength="103.98" lengthAdjust="spacingAndGlyphs" style="font-family:'Liberation Sans', sans-serif;font-size:14.3px;">[HbO]-envelope</text>
<line x1="645.8" y1="583.1" x2="672.8" y2="583.1" stroke="#111111" stroke-width="1.6" stroke-dasharray="4,2"/>
<text x="676.66" y="588.40" textLength="11.85" lengthAdjust="spacingAndGlyphs" style="font-family:'Liberation Serif', serif;font-size:14.3px;">Δ</text>
<text x="688.16" y="588.40" textLength="86.07" lengthAdjust="spacingAndGlyphs" style="font-family:'Liberation Sans', sans-serif;font-size:14.3px;">[HbT]-filtered</text>
<line x1="645.8" y1="600.9" x2="672.8" y2="600.9" stroke="#0a0a0a" stroke-width="2.7"/>
<text x="676.66" y="606.20" textLength="11.85" lengthAdjust="spacingAndGlyphs" style="font-family:'Liberation Serif', serif;font-size:14.3px;">Δ</text>
<text x="688.17" y="606.20" textLength="101.02" lengthAdjust="spacingAndGlyphs" style="font-family:'Liberation Sans', sans-serif;font-size:14.3px;">[HbT]-envelope</text>
</svg>
</body></html>
